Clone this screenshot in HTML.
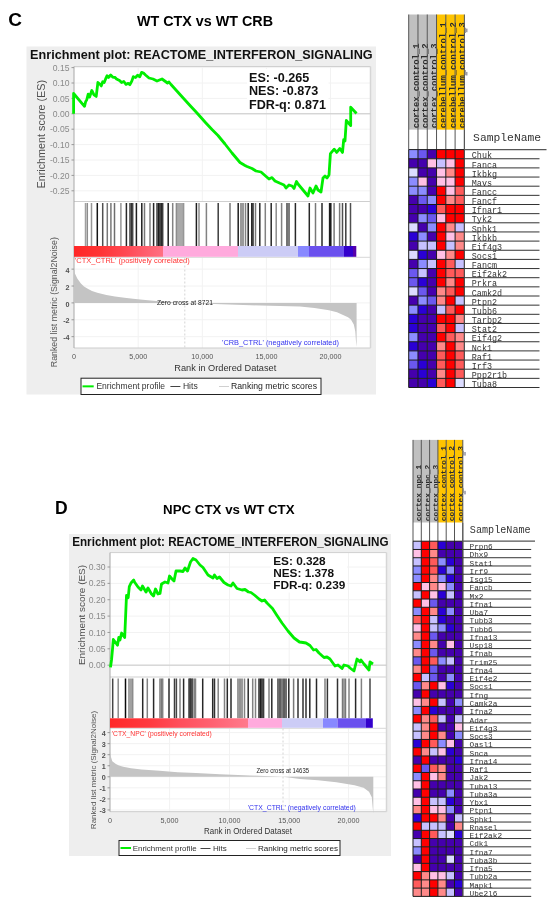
<!DOCTYPE html>
<html><head><meta charset="utf-8"><title>GSEA</title>
<style>html,body{margin:0;padding:0;background:#fff;width:550px;height:905px;overflow:hidden;position:relative;font-family:"Liberation Sans",sans-serif}</style>
</head><body>
<svg width="550" height="905" viewBox="0 0 550 905" style="position:absolute;left:0;top:0;filter:blur(0.4px)">
<rect x="0.00" y="0.00" width="550.00" height="905.00" fill="#ffffff" />
<text x="8.3" y="25.6" font-size="19" font-weight="bold" fill="#000" text-anchor="start" font-family='"Liberation Sans", sans-serif' >C</text>
<text x="137.0" y="26.2" font-size="14.3" font-weight="bold" fill="#000" text-anchor="start" font-family='"Liberation Sans", sans-serif' textLength="136" lengthAdjust="spacingAndGlyphs" >WT CTX vs WT CRB</text>
<text x="55.0" y="513.6" font-size="17.5" font-weight="bold" fill="#000" text-anchor="start" font-family='"Liberation Sans", sans-serif' >D</text>
<text x="163.1" y="513.9" font-size="13.0" font-weight="bold" fill="#000" text-anchor="start" font-family='"Liberation Sans", sans-serif' textLength="131.5" lengthAdjust="spacingAndGlyphs" >NPC CTX vs WT CTX</text>
<rect x="26.50" y="46.50" width="349.50" height="348.00" fill="#eeeeee" />
<text x="30.1" y="59.2" font-size="12.6" font-weight="bold" fill="#111" text-anchor="start" font-family='"Liberation Sans", sans-serif' textLength="342.5" lengthAdjust="spacingAndGlyphs" >Enrichment plot: REACTOME_INTERFERON_SIGNALING</text>
<rect x="74.00" y="66.50" width="296.50" height="281.50" fill="#ffffff" />
<line x1="74.00" y1="67.60" x2="370.50" y2="67.60" stroke="#f2f2f2" stroke-width="1" />
<line x1="74.00" y1="83.00" x2="370.50" y2="83.00" stroke="#f2f2f2" stroke-width="1" />
<line x1="74.00" y1="98.40" x2="370.50" y2="98.40" stroke="#f2f2f2" stroke-width="1" />
<line x1="74.00" y1="113.80" x2="370.50" y2="113.80" stroke="#f2f2f2" stroke-width="1" />
<line x1="74.00" y1="129.20" x2="370.50" y2="129.20" stroke="#f2f2f2" stroke-width="1" />
<line x1="74.00" y1="144.60" x2="370.50" y2="144.60" stroke="#f2f2f2" stroke-width="1" />
<line x1="74.00" y1="160.00" x2="370.50" y2="160.00" stroke="#f2f2f2" stroke-width="1" />
<line x1="74.00" y1="175.40" x2="370.50" y2="175.40" stroke="#f2f2f2" stroke-width="1" />
<line x1="74.00" y1="190.80" x2="370.50" y2="190.80" stroke="#f2f2f2" stroke-width="1" />
<line x1="138.20" y1="66.50" x2="138.20" y2="201.50" stroke="#f2f2f2" stroke-width="1" />
<line x1="138.20" y1="257.50" x2="138.20" y2="348.00" stroke="#f2f2f2" stroke-width="1" />
<line x1="202.30" y1="66.50" x2="202.30" y2="201.50" stroke="#f2f2f2" stroke-width="1" />
<line x1="202.30" y1="257.50" x2="202.30" y2="348.00" stroke="#f2f2f2" stroke-width="1" />
<line x1="266.40" y1="66.50" x2="266.40" y2="201.50" stroke="#f2f2f2" stroke-width="1" />
<line x1="266.40" y1="257.50" x2="266.40" y2="348.00" stroke="#f2f2f2" stroke-width="1" />
<line x1="330.50" y1="66.50" x2="330.50" y2="201.50" stroke="#f2f2f2" stroke-width="1" />
<line x1="330.50" y1="257.50" x2="330.50" y2="348.00" stroke="#f2f2f2" stroke-width="1" />
<line x1="74.00" y1="269.14" x2="370.50" y2="269.14" stroke="#f2f2f2" stroke-width="1" />
<line x1="74.00" y1="286.02" x2="370.50" y2="286.02" stroke="#f2f2f2" stroke-width="1" />
<line x1="74.00" y1="302.90" x2="370.50" y2="302.90" stroke="#f2f2f2" stroke-width="1" />
<line x1="74.00" y1="319.78" x2="370.50" y2="319.78" stroke="#f2f2f2" stroke-width="1" />
<line x1="74.00" y1="336.66" x2="370.50" y2="336.66" stroke="#f2f2f2" stroke-width="1" />
<line x1="74.00" y1="66.50" x2="370.50" y2="66.50" stroke="#d0d0d0" stroke-width="1" />
<line x1="74.00" y1="201.50" x2="370.50" y2="201.50" stroke="#cfcfcf" stroke-width="1" />
<line x1="74.00" y1="257.30" x2="370.50" y2="257.30" stroke="#d8d8d8" stroke-width="1" />
<line x1="74.00" y1="348.00" x2="370.50" y2="348.00" stroke="#cccccc" stroke-width="1" />
<line x1="370.50" y1="66.50" x2="370.50" y2="348.00" stroke="#d6d6d6" stroke-width="1.5" />
<line x1="74.00" y1="66.50" x2="74.00" y2="348.00" stroke="#a8a8a8" stroke-width="1" />
<line x1="74.00" y1="113.80" x2="370.50" y2="113.80" stroke="#c8c8c8" stroke-width="1" />
<line x1="71.50" y1="67.60" x2="74.00" y2="67.60" stroke="#999" stroke-width="1" />
<text x="69.5" y="70.69999999999999" font-size="8.6" font-weight="normal" fill="#8a8a8a" text-anchor="end" font-family='"Liberation Sans", sans-serif' >0.15</text>
<line x1="71.50" y1="83.00" x2="74.00" y2="83.00" stroke="#999" stroke-width="1" />
<text x="69.5" y="86.09999999999998" font-size="8.6" font-weight="normal" fill="#8a8a8a" text-anchor="end" font-family='"Liberation Sans", sans-serif' >0.10</text>
<line x1="71.50" y1="98.40" x2="74.00" y2="98.40" stroke="#999" stroke-width="1" />
<text x="69.5" y="101.49999999999999" font-size="8.6" font-weight="normal" fill="#8a8a8a" text-anchor="end" font-family='"Liberation Sans", sans-serif' >0.05</text>
<line x1="71.50" y1="113.80" x2="74.00" y2="113.80" stroke="#999" stroke-width="1" />
<text x="69.5" y="116.89999999999998" font-size="8.6" font-weight="normal" fill="#8a8a8a" text-anchor="end" font-family='"Liberation Sans", sans-serif' >0.00</text>
<line x1="71.50" y1="129.20" x2="74.00" y2="129.20" stroke="#999" stroke-width="1" />
<text x="69.5" y="132.29999999999998" font-size="8.6" font-weight="normal" fill="#8a8a8a" text-anchor="end" font-family='"Liberation Sans", sans-serif' >-0.05</text>
<line x1="71.50" y1="144.60" x2="74.00" y2="144.60" stroke="#999" stroke-width="1" />
<text x="69.5" y="147.7" font-size="8.6" font-weight="normal" fill="#8a8a8a" text-anchor="end" font-family='"Liberation Sans", sans-serif' >-0.10</text>
<line x1="71.50" y1="160.00" x2="74.00" y2="160.00" stroke="#999" stroke-width="1" />
<text x="69.5" y="163.1" font-size="8.6" font-weight="normal" fill="#8a8a8a" text-anchor="end" font-family='"Liberation Sans", sans-serif' >-0.15</text>
<line x1="71.50" y1="175.40" x2="74.00" y2="175.40" stroke="#999" stroke-width="1" />
<text x="69.5" y="178.49999999999997" font-size="8.6" font-weight="normal" fill="#8a8a8a" text-anchor="end" font-family='"Liberation Sans", sans-serif' >-0.20</text>
<line x1="71.50" y1="190.80" x2="74.00" y2="190.80" stroke="#999" stroke-width="1" />
<text x="69.5" y="193.9" font-size="8.6" font-weight="normal" fill="#8a8a8a" text-anchor="end" font-family='"Liberation Sans", sans-serif' >-0.25</text>
<line x1="71.50" y1="269.14" x2="74.00" y2="269.14" stroke="#999" stroke-width="1" />
<text x="69.6" y="272.74" font-size="7.2" font-weight="bold" fill="#505050" text-anchor="end" font-family='"Liberation Sans", sans-serif' >4</text>
<line x1="71.50" y1="286.02" x2="74.00" y2="286.02" stroke="#999" stroke-width="1" />
<text x="69.6" y="289.62" font-size="7.2" font-weight="bold" fill="#505050" text-anchor="end" font-family='"Liberation Sans", sans-serif' >2</text>
<line x1="71.50" y1="302.90" x2="74.00" y2="302.90" stroke="#999" stroke-width="1" />
<text x="69.6" y="306.5" font-size="7.2" font-weight="bold" fill="#505050" text-anchor="end" font-family='"Liberation Sans", sans-serif' >0</text>
<line x1="71.50" y1="319.78" x2="74.00" y2="319.78" stroke="#999" stroke-width="1" />
<text x="69.6" y="323.38" font-size="7.2" font-weight="bold" fill="#505050" text-anchor="end" font-family='"Liberation Sans", sans-serif' >-2</text>
<line x1="71.50" y1="336.66" x2="74.00" y2="336.66" stroke="#999" stroke-width="1" />
<text x="69.6" y="340.26" font-size="7.2" font-weight="bold" fill="#505050" text-anchor="end" font-family='"Liberation Sans", sans-serif' >-4</text>
<text transform="translate(44.8,134.2) rotate(-90)" font-size="10.8" fill="#505050" text-anchor="middle" font-family='"Liberation Sans", sans-serif'>Enrichment score (ES)</text>
<text transform="translate(57.3,302.2) rotate(-90)" font-size="8.8" fill="#555" text-anchor="middle" font-family='"Liberation Sans", sans-serif'>Ranked list metric (Signal2Noise)</text>
<text x="74.0" y="359.0" font-size="7.2" font-weight="normal" fill="#555" text-anchor="middle" font-family='"Liberation Sans", sans-serif' >0</text>
<text x="138.2" y="359.0" font-size="7.2" font-weight="normal" fill="#555" text-anchor="middle" font-family='"Liberation Sans", sans-serif' >5,000</text>
<text x="202.3" y="359.0" font-size="7.2" font-weight="normal" fill="#555" text-anchor="middle" font-family='"Liberation Sans", sans-serif' >10,000</text>
<text x="266.4" y="359.0" font-size="7.2" font-weight="normal" fill="#555" text-anchor="middle" font-family='"Liberation Sans", sans-serif' >15,000</text>
<text x="330.5" y="359.0" font-size="7.2" font-weight="normal" fill="#555" text-anchor="middle" font-family='"Liberation Sans", sans-serif' >20,000</text>
<text x="174.3" y="370.5" font-size="9.3" font-weight="normal" fill="#333" text-anchor="start" font-family='"Liberation Sans", sans-serif' textLength="102" lengthAdjust="spacingAndGlyphs" >Rank in Ordered Dataset</text>
<line x1="85.50" y1="203.00" x2="85.50" y2="246.00" stroke="rgb(160,160,160)" stroke-width="1.5" />
<line x1="87.30" y1="203.00" x2="87.30" y2="246.00" stroke="rgb(140,140,140)" stroke-width="1.5" />
<line x1="91.50" y1="203.00" x2="91.50" y2="246.00" stroke="rgb(150,150,150)" stroke-width="1.5" />
<line x1="97.30" y1="203.00" x2="97.30" y2="246.00" stroke="rgb(20,20,20)" stroke-width="1.5" />
<line x1="102.70" y1="203.00" x2="102.70" y2="246.00" stroke="rgb(80,80,80)" stroke-width="1.5" />
<line x1="107.30" y1="203.00" x2="107.30" y2="246.00" stroke="rgb(120,120,120)" stroke-width="1.5" />
<line x1="110.90" y1="203.00" x2="110.90" y2="246.00" stroke="rgb(120,120,120)" stroke-width="1.5" />
<line x1="114.50" y1="203.00" x2="114.50" y2="246.00" stroke="rgb(110,110,110)" stroke-width="1.5" />
<line x1="120.90" y1="203.00" x2="120.90" y2="246.00" stroke="rgb(150,150,150)" stroke-width="1.5" />
<line x1="126.40" y1="203.00" x2="126.40" y2="246.00" stroke="rgb(40,40,40)" stroke-width="1.5" />
<line x1="130.00" y1="203.00" x2="130.00" y2="246.00" stroke="rgb(60,60,60)" stroke-width="1.5" />
<line x1="131.50" y1="203.00" x2="131.50" y2="246.00" stroke="rgb(50,50,50)" stroke-width="1.5" />
<line x1="132.70" y1="203.00" x2="132.70" y2="246.00" stroke="rgb(70,70,70)" stroke-width="1.5" />
<line x1="136.40" y1="203.00" x2="136.40" y2="246.00" stroke="rgb(30,30,30)" stroke-width="1.5" />
<line x1="141.80" y1="203.00" x2="141.80" y2="246.00" stroke="rgb(30,30,30)" stroke-width="1.5" />
<line x1="144.50" y1="203.00" x2="144.50" y2="246.00" stroke="rgb(120,120,120)" stroke-width="1.5" />
<line x1="150.00" y1="203.00" x2="150.00" y2="246.00" stroke="rgb(130,130,130)" stroke-width="1.5" />
<line x1="153.60" y1="203.00" x2="153.60" y2="246.00" stroke="rgb(40,40,40)" stroke-width="1.5" />
<line x1="157.00" y1="203.00" x2="157.00" y2="246.00" stroke="rgb(60,60,60)" stroke-width="1.5" />
<line x1="158.50" y1="203.00" x2="158.50" y2="246.00" stroke="rgb(30,30,30)" stroke-width="1.5" />
<line x1="160.00" y1="203.00" x2="160.00" y2="246.00" stroke="rgb(20,20,20)" stroke-width="1.5" />
<line x1="161.50" y1="203.00" x2="161.50" y2="246.00" stroke="rgb(40,40,40)" stroke-width="1.5" />
<line x1="162.70" y1="203.00" x2="162.70" y2="246.00" stroke="rgb(60,60,60)" stroke-width="1.5" />
<line x1="168.20" y1="203.00" x2="168.20" y2="246.00" stroke="rgb(30,30,30)" stroke-width="1.5" />
<line x1="172.70" y1="203.00" x2="172.70" y2="246.00" stroke="rgb(130,130,130)" stroke-width="1.5" />
<line x1="176.40" y1="203.00" x2="176.40" y2="246.00" stroke="rgb(140,140,140)" stroke-width="1.5" />
<line x1="178.00" y1="203.00" x2="178.00" y2="246.00" stroke="rgb(140,140,140)" stroke-width="1.5" />
<line x1="180.00" y1="203.00" x2="180.00" y2="246.00" stroke="rgb(140,140,140)" stroke-width="1.5" />
<line x1="182.00" y1="203.00" x2="182.00" y2="246.00" stroke="rgb(140,140,140)" stroke-width="1.5" />
<line x1="183.60" y1="203.00" x2="183.60" y2="246.00" stroke="rgb(150,150,150)" stroke-width="1.5" />
<line x1="196.40" y1="203.00" x2="196.40" y2="246.00" stroke="rgb(30,30,30)" stroke-width="1.5" />
<line x1="199.00" y1="203.00" x2="199.00" y2="246.00" stroke="rgb(140,140,140)" stroke-width="1.5" />
<line x1="206.40" y1="203.00" x2="206.40" y2="246.00" stroke="rgb(130,130,130)" stroke-width="1.5" />
<line x1="218.20" y1="203.00" x2="218.20" y2="246.00" stroke="rgb(60,60,60)" stroke-width="1.5" />
<line x1="230.00" y1="203.00" x2="230.00" y2="246.00" stroke="rgb(120,120,120)" stroke-width="1.5" />
<line x1="238.20" y1="203.00" x2="238.20" y2="246.00" stroke="rgb(30,30,30)" stroke-width="1.5" />
<line x1="241.00" y1="203.00" x2="241.00" y2="246.00" stroke="rgb(120,120,120)" stroke-width="1.5" />
<line x1="243.00" y1="203.00" x2="243.00" y2="246.00" stroke="rgb(120,120,120)" stroke-width="1.5" />
<line x1="245.50" y1="203.00" x2="245.50" y2="246.00" stroke="rgb(130,130,130)" stroke-width="1.5" />
<line x1="248.20" y1="203.00" x2="248.20" y2="246.00" stroke="rgb(30,30,30)" stroke-width="1.5" />
<line x1="251.80" y1="203.00" x2="251.80" y2="246.00" stroke="rgb(30,30,30)" stroke-width="1.5" />
<line x1="253.00" y1="203.00" x2="253.00" y2="246.00" stroke="rgb(40,40,40)" stroke-width="1.5" />
<line x1="255.50" y1="203.00" x2="255.50" y2="246.00" stroke="rgb(120,120,120)" stroke-width="1.5" />
<line x1="259.80" y1="203.00" x2="259.80" y2="246.00" stroke="rgb(40,40,40)" stroke-width="1.5" />
<line x1="265.30" y1="203.00" x2="265.30" y2="246.00" stroke="rgb(130,130,130)" stroke-width="1.5" />
<line x1="271.20" y1="203.00" x2="271.20" y2="246.00" stroke="rgb(40,40,40)" stroke-width="1.5" />
<line x1="276.20" y1="203.00" x2="276.20" y2="246.00" stroke="rgb(140,140,140)" stroke-width="1.5" />
<line x1="281.60" y1="203.00" x2="281.60" y2="246.00" stroke="rgb(130,130,130)" stroke-width="1.5" />
<line x1="287.00" y1="203.00" x2="287.00" y2="246.00" stroke="rgb(70,70,70)" stroke-width="1.5" />
<line x1="289.00" y1="203.00" x2="289.00" y2="246.00" stroke="rgb(80,80,80)" stroke-width="1.5" />
<line x1="295.40" y1="203.00" x2="295.40" y2="246.00" stroke="rgb(40,40,40)" stroke-width="1.5" />
<line x1="309.30" y1="203.00" x2="309.30" y2="246.00" stroke="rgb(40,40,40)" stroke-width="1.5" />
<line x1="315.50" y1="203.00" x2="315.50" y2="246.00" stroke="rgb(120,120,120)" stroke-width="1.5" />
<line x1="322.00" y1="203.00" x2="322.00" y2="246.00" stroke="rgb(40,40,40)" stroke-width="1.5" />
<line x1="329.60" y1="203.00" x2="329.60" y2="246.00" stroke="rgb(30,30,30)" stroke-width="1.5" />
<line x1="330.80" y1="203.00" x2="330.80" y2="246.00" stroke="rgb(20,20,20)" stroke-width="1.5" />
<line x1="334.10" y1="203.00" x2="334.10" y2="246.00" stroke="rgb(120,120,120)" stroke-width="1.5" />
<line x1="339.60" y1="203.00" x2="339.60" y2="246.00" stroke="rgb(120,120,120)" stroke-width="1.5" />
<line x1="342.50" y1="203.00" x2="342.50" y2="246.00" stroke="rgb(80,80,80)" stroke-width="1.5" />
<line x1="345.80" y1="203.00" x2="345.80" y2="246.00" stroke="rgb(60,60,60)" stroke-width="1.5" />
<line x1="350.50" y1="203.00" x2="350.50" y2="246.00" stroke="rgb(80,80,80)" stroke-width="1.5" />
<defs><linearGradient id="gC" x1="0" x2="1" y1="0" y2="0"><stop offset="0.000" stop-color="#ff2626"/><stop offset="0.292" stop-color="#ff3434"/><stop offset="0.596" stop-color="#ff4a55"/><stop offset="0.798" stop-color="#ff5e6c"/><stop offset="1.000" stop-color="#ff7082"/></linearGradient></defs>
<rect x="74.00" y="246.00" width="89.00" height="10.80" fill="url(#gC)" />
<rect x="163.00" y="246.00" width="75.00" height="10.80" fill="#ffaadd" />
<rect x="238.00" y="246.00" width="60.00" height="10.80" fill="#ccccf6" />
<rect x="298.00" y="246.00" width="11.00" height="10.80" fill="#8888ff" />
<rect x="309.00" y="246.00" width="35.00" height="10.80" fill="#6a50ee" />
<rect x="344.00" y="246.00" width="9.00" height="10.80" fill="#3300cc" />
<rect x="353.00" y="246.00" width="3.30" height="10.80" fill="#5500aa" />
<text x="74.8" y="263.2" font-size="7.5" font-weight="normal" fill="#ff3333" text-anchor="start" font-family='"Liberation Sans", sans-serif' textLength="115" lengthAdjust="spacingAndGlyphs" >'CTX_CTRL' (positively correlated)</text>
<text x="222.0" y="345.2" font-size="7.5" font-weight="normal" fill="#3333ee" text-anchor="start" font-family='"Liberation Sans", sans-serif' textLength="117" lengthAdjust="spacingAndGlyphs" >'CRB_CTRL' (negatively correlated)</text>
<path d="M74,302.90 L74.00,268.30 L74.80,273.36 L77.30,278.42 L80.90,283.49 L84.00,286.44 L88.20,288.89 L92.00,290.92 L97.30,292.77 L106.40,295.05 L115.00,296.57 L124.50,297.84 L133.00,298.85 L142.70,299.69 L156.40,301.04 L170.00,301.89 L185.50,302.90 L200.00,303.58 L236.00,304.76 L270.00,305.85 L300.00,306.53 L314.50,307.96 L329.00,310.16 L337.00,312.18 L343.60,315.22 L348.00,317.25 L350.90,319.61 L353.80,324.59 L355.30,331.60 L356.00,341.72 L356.60,346.79 L356.6,302.90 Z" fill="#c4c4c4" stroke="none"/>
<line x1="184.80" y1="257.50" x2="184.80" y2="348.00" stroke="#d4d4d4" stroke-width="1" stroke-dasharray="2,2"/>
<text x="157.0" y="305.0" font-size="6.8" font-weight="normal" fill="#222" text-anchor="start" font-family='"Liberation Sans", sans-serif' textLength="56" lengthAdjust="spacingAndGlyphs" >Zero cross at 8721</text>
<polyline points="73.6,113.8 73.6,93.5 84.5,106.3 85.7,101.5 86.7,100.0 88.2,94.2 89.6,97.1 91.8,90.5 94.0,94.9 96.2,96.4 97.9,82.5 99.8,84.0 101.3,85.9 102.7,81.8 104.2,82.5 105.6,78.9 107.1,75.7 108.5,77.5 110.7,75.0 112.9,77.2 115.1,77.5 116.5,78.9 119.5,80.4 121.6,82.5 123.8,81.5 126.0,84.4 128.2,83.3 129.9,84.7 131.8,81.1 133.3,76.7 135.5,77.5 137.6,75.3 139.8,76.7 141.6,72.4 143.5,73.1 145.5,75.0 149.0,78.0 153.0,79.0 157.0,81.0 162.0,79.0 167.5,83.0 169.0,82.0 171.0,84.5 180.0,94.5 190.0,105.5 197.0,113.0 205.0,122.0 212.0,129.5 218.0,135.5 225.0,144.0 232.0,153.0 240.0,162.5 245.0,165.5 247.0,166.5 252.0,168.5 256.0,171.0 261.0,172.0 265.0,175.5 269.0,179.0 272.0,177.6 275.0,181.0 280.0,183.3 284.0,185.0 286.0,188.0 289.0,185.0 292.0,186.0 294.0,188.5 296.5,181.5 298.0,184.0 303.0,190.0 308.0,196.0 310.0,188.0 313.0,193.0 316.0,186.0 318.0,190.0 321.0,192.0 323.0,178.0 325.0,176.0 327.0,178.0 329.0,175.0 330.4,153.6 334.2,149.2 336.7,152.4 339.9,148.5 342.5,152.4 343.7,139.6 345.0,140.9 346.3,120.5 350.7,125.6 350.7,107.2 356.5,113.5" fill="none" stroke="#00ee00" stroke-width="2.8" stroke-linejoin="round"/>
<rect x="247.00" y="69.00" width="81.50" height="35.50" fill="#ffffff" />
<text x="249.0" y="81.7" font-size="12.6" font-weight="bold" fill="#111" text-anchor="start" font-family='"Liberation Sans", sans-serif' >ES: -0.265</text>
<text x="249.0" y="95.2" font-size="12.6" font-weight="bold" fill="#111" text-anchor="start" font-family='"Liberation Sans", sans-serif' >NES: -0.873</text>
<text x="249.0" y="108.7" font-size="12.6" font-weight="bold" fill="#111" text-anchor="start" font-family='"Liberation Sans", sans-serif' >FDR-q: 0.871</text>
<rect x="81.0" y="378.2" width="240.0" height="16.30000000000001" fill="#ffffff" stroke="#222" stroke-width="1"/>
<line x1="82.50" y1="386.35" x2="93.70" y2="386.35" stroke="#00ee00" stroke-width="2" />
<text x="96.4" y="389.35" font-size="8.6" font-weight="normal" fill="#333" text-anchor="start" font-family='"Liberation Sans", sans-serif' textLength="68.7" lengthAdjust="spacingAndGlyphs" >Enrichment profile</text>
<line x1="170.40" y1="386.50" x2="180.40" y2="386.50" stroke="#444" stroke-width="1" />
<text x="182.9" y="389.35" font-size="8.6" font-weight="normal" fill="#333" text-anchor="start" font-family='"Liberation Sans", sans-serif' >Hits</text>
<line x1="219.00" y1="386.50" x2="229.00" y2="386.50" stroke="#d0d0d0" stroke-width="1" />
<text x="231.0" y="389.35" font-size="8.6" font-weight="normal" fill="#222" text-anchor="start" font-family='"Liberation Sans", sans-serif' textLength="86.0" lengthAdjust="spacingAndGlyphs" >Ranking metric scores</text>
<rect x="69.00" y="534.00" width="322.00" height="322.00" fill="#eeeeee" />
<text x="72.2" y="545.6" font-size="11.9" font-weight="bold" fill="#111" text-anchor="start" font-family='"Liberation Sans", sans-serif' textLength="316.3" lengthAdjust="spacingAndGlyphs" >Enrichment plot: REACTOME_INTERFERON_SIGNALING</text>
<rect x="110.00" y="552.60" width="276.50" height="259.10" fill="#ffffff" />
<line x1="110.00" y1="567.00" x2="386.50" y2="567.00" stroke="#f2f2f2" stroke-width="1" />
<line x1="110.00" y1="583.36" x2="386.50" y2="583.36" stroke="#f2f2f2" stroke-width="1" />
<line x1="110.00" y1="599.72" x2="386.50" y2="599.72" stroke="#f2f2f2" stroke-width="1" />
<line x1="110.00" y1="616.08" x2="386.50" y2="616.08" stroke="#f2f2f2" stroke-width="1" />
<line x1="110.00" y1="632.44" x2="386.50" y2="632.44" stroke="#f2f2f2" stroke-width="1" />
<line x1="110.00" y1="648.80" x2="386.50" y2="648.80" stroke="#f2f2f2" stroke-width="1" />
<line x1="110.00" y1="665.16" x2="386.50" y2="665.16" stroke="#f2f2f2" stroke-width="1" />
<line x1="169.60" y1="552.60" x2="169.60" y2="677.00" stroke="#f2f2f2" stroke-width="1" />
<line x1="169.60" y1="728.50" x2="169.60" y2="811.70" stroke="#f2f2f2" stroke-width="1" />
<line x1="229.50" y1="552.60" x2="229.50" y2="677.00" stroke="#f2f2f2" stroke-width="1" />
<line x1="229.50" y1="728.50" x2="229.50" y2="811.70" stroke="#f2f2f2" stroke-width="1" />
<line x1="289.20" y1="552.60" x2="289.20" y2="677.00" stroke="#f2f2f2" stroke-width="1" />
<line x1="289.20" y1="728.50" x2="289.20" y2="811.70" stroke="#f2f2f2" stroke-width="1" />
<line x1="348.50" y1="552.60" x2="348.50" y2="677.00" stroke="#f2f2f2" stroke-width="1" />
<line x1="348.50" y1="728.50" x2="348.50" y2="811.70" stroke="#f2f2f2" stroke-width="1" />
<line x1="110.00" y1="732.60" x2="386.50" y2="732.60" stroke="#f2f2f2" stroke-width="1" />
<line x1="110.00" y1="743.65" x2="386.50" y2="743.65" stroke="#f2f2f2" stroke-width="1" />
<line x1="110.00" y1="754.70" x2="386.50" y2="754.70" stroke="#f2f2f2" stroke-width="1" />
<line x1="110.00" y1="765.75" x2="386.50" y2="765.75" stroke="#f2f2f2" stroke-width="1" />
<line x1="110.00" y1="776.80" x2="386.50" y2="776.80" stroke="#f2f2f2" stroke-width="1" />
<line x1="110.00" y1="787.85" x2="386.50" y2="787.85" stroke="#f2f2f2" stroke-width="1" />
<line x1="110.00" y1="798.90" x2="386.50" y2="798.90" stroke="#f2f2f2" stroke-width="1" />
<line x1="110.00" y1="809.95" x2="386.50" y2="809.95" stroke="#f2f2f2" stroke-width="1" />
<line x1="110.00" y1="552.60" x2="386.50" y2="552.60" stroke="#d0d0d0" stroke-width="1" />
<line x1="110.00" y1="677.00" x2="386.50" y2="677.00" stroke="#cfcfcf" stroke-width="1" />
<line x1="110.00" y1="728.30" x2="386.50" y2="728.30" stroke="#d8d8d8" stroke-width="1" />
<line x1="110.00" y1="811.70" x2="386.50" y2="811.70" stroke="#cccccc" stroke-width="1" />
<line x1="386.50" y1="552.60" x2="386.50" y2="811.70" stroke="#d6d6d6" stroke-width="1.5" />
<line x1="110.00" y1="552.60" x2="110.00" y2="811.70" stroke="#a8a8a8" stroke-width="1" />
<line x1="110.00" y1="665.16" x2="386.50" y2="665.16" stroke="#c8c8c8" stroke-width="1" />
<line x1="107.50" y1="567.00" x2="110.00" y2="567.00" stroke="#999" stroke-width="1" />
<text x="105.5" y="570.1" font-size="8.6" font-weight="normal" fill="#8a8a8a" text-anchor="end" font-family='"Liberation Sans", sans-serif' >0.30</text>
<line x1="107.50" y1="583.36" x2="110.00" y2="583.36" stroke="#999" stroke-width="1" />
<text x="105.5" y="586.46" font-size="8.6" font-weight="normal" fill="#8a8a8a" text-anchor="end" font-family='"Liberation Sans", sans-serif' >0.25</text>
<line x1="107.50" y1="599.72" x2="110.00" y2="599.72" stroke="#999" stroke-width="1" />
<text x="105.5" y="602.82" font-size="8.6" font-weight="normal" fill="#8a8a8a" text-anchor="end" font-family='"Liberation Sans", sans-serif' >0.20</text>
<line x1="107.50" y1="616.08" x2="110.00" y2="616.08" stroke="#999" stroke-width="1" />
<text x="105.5" y="619.1800000000001" font-size="8.6" font-weight="normal" fill="#8a8a8a" text-anchor="end" font-family='"Liberation Sans", sans-serif' >0.15</text>
<line x1="107.50" y1="632.44" x2="110.00" y2="632.44" stroke="#999" stroke-width="1" />
<text x="105.5" y="635.54" font-size="8.6" font-weight="normal" fill="#8a8a8a" text-anchor="end" font-family='"Liberation Sans", sans-serif' >0.10</text>
<line x1="107.50" y1="648.80" x2="110.00" y2="648.80" stroke="#999" stroke-width="1" />
<text x="105.5" y="651.9" font-size="8.6" font-weight="normal" fill="#8a8a8a" text-anchor="end" font-family='"Liberation Sans", sans-serif' >0.05</text>
<line x1="107.50" y1="665.16" x2="110.00" y2="665.16" stroke="#999" stroke-width="1" />
<text x="105.5" y="668.26" font-size="8.6" font-weight="normal" fill="#8a8a8a" text-anchor="end" font-family='"Liberation Sans", sans-serif' >0.00</text>
<line x1="107.50" y1="732.60" x2="110.00" y2="732.60" stroke="#999" stroke-width="1" />
<text x="105.8" y="735.4999999999999" font-size="7.2" font-weight="bold" fill="#505050" text-anchor="end" font-family='"Liberation Sans", sans-serif' >4</text>
<line x1="107.50" y1="743.65" x2="110.00" y2="743.65" stroke="#999" stroke-width="1" />
<text x="105.8" y="746.55" font-size="7.2" font-weight="bold" fill="#505050" text-anchor="end" font-family='"Liberation Sans", sans-serif' >3</text>
<line x1="107.50" y1="754.70" x2="110.00" y2="754.70" stroke="#999" stroke-width="1" />
<text x="105.8" y="757.5999999999999" font-size="7.2" font-weight="bold" fill="#505050" text-anchor="end" font-family='"Liberation Sans", sans-serif' >2</text>
<line x1="107.50" y1="765.75" x2="110.00" y2="765.75" stroke="#999" stroke-width="1" />
<text x="105.8" y="768.65" font-size="7.2" font-weight="bold" fill="#505050" text-anchor="end" font-family='"Liberation Sans", sans-serif' >1</text>
<line x1="107.50" y1="776.80" x2="110.00" y2="776.80" stroke="#999" stroke-width="1" />
<text x="105.8" y="779.6999999999999" font-size="7.2" font-weight="bold" fill="#505050" text-anchor="end" font-family='"Liberation Sans", sans-serif' >0</text>
<line x1="107.50" y1="787.85" x2="110.00" y2="787.85" stroke="#999" stroke-width="1" />
<text x="105.8" y="790.7499999999999" font-size="7.2" font-weight="bold" fill="#505050" text-anchor="end" font-family='"Liberation Sans", sans-serif' >-1</text>
<line x1="107.50" y1="798.90" x2="110.00" y2="798.90" stroke="#999" stroke-width="1" />
<text x="105.8" y="801.8" font-size="7.2" font-weight="bold" fill="#505050" text-anchor="end" font-family='"Liberation Sans", sans-serif' >-2</text>
<line x1="107.50" y1="809.95" x2="110.00" y2="809.95" stroke="#999" stroke-width="1" />
<text x="105.8" y="812.8499999999999" font-size="7.2" font-weight="bold" fill="#505050" text-anchor="end" font-family='"Liberation Sans", sans-serif' >-3</text>
<text transform="translate(84.6,615.0) rotate(-90)" font-size="9.96" fill="#505050" text-anchor="middle" font-family='"Liberation Sans", sans-serif'>Enrichment score (ES)</text>
<text transform="translate(95.8,770.0) rotate(-90)" font-size="8.0" fill="#555" text-anchor="middle" font-family='"Liberation Sans", sans-serif'>Ranked list metric (Signal2Noise)</text>
<text x="110.0" y="823.0" font-size="7.2" font-weight="normal" fill="#555" text-anchor="middle" font-family='"Liberation Sans", sans-serif' >0</text>
<text x="169.6" y="823.0" font-size="7.2" font-weight="normal" fill="#555" text-anchor="middle" font-family='"Liberation Sans", sans-serif' >5,000</text>
<text x="229.5" y="823.0" font-size="7.2" font-weight="normal" fill="#555" text-anchor="middle" font-family='"Liberation Sans", sans-serif' >10,000</text>
<text x="289.2" y="823.0" font-size="7.2" font-weight="normal" fill="#555" text-anchor="middle" font-family='"Liberation Sans", sans-serif' >15,000</text>
<text x="348.5" y="823.0" font-size="7.2" font-weight="normal" fill="#555" text-anchor="middle" font-family='"Liberation Sans", sans-serif' >20,000</text>
<text x="204.0" y="834.0" font-size="8.6" font-weight="normal" fill="#333" text-anchor="start" font-family='"Liberation Sans", sans-serif' textLength="88" lengthAdjust="spacingAndGlyphs" >Rank in Ordered Dataset</text>
<line x1="112.70" y1="678.50" x2="112.70" y2="718.30" stroke="rgb(70,70,70)" stroke-width="1.5" />
<line x1="118.20" y1="678.50" x2="118.20" y2="718.30" stroke="rgb(140,140,140)" stroke-width="1.5" />
<line x1="125.50" y1="678.50" x2="125.50" y2="718.30" stroke="rgb(10,10,10)" stroke-width="1.5" />
<line x1="129.00" y1="678.50" x2="129.00" y2="718.30" stroke="rgb(130,130,130)" stroke-width="1.5" />
<line x1="131.00" y1="678.50" x2="131.00" y2="718.30" stroke="rgb(130,130,130)" stroke-width="1.5" />
<line x1="132.70" y1="678.50" x2="132.70" y2="718.30" stroke="rgb(140,140,140)" stroke-width="1.5" />
<line x1="142.70" y1="678.50" x2="142.70" y2="718.30" stroke="rgb(40,40,40)" stroke-width="1.5" />
<line x1="147.30" y1="678.50" x2="147.30" y2="718.30" stroke="rgb(130,130,130)" stroke-width="1.5" />
<line x1="153.60" y1="678.50" x2="153.60" y2="718.30" stroke="rgb(40,40,40)" stroke-width="1.5" />
<line x1="160.00" y1="678.50" x2="160.00" y2="718.30" stroke="rgb(120,120,120)" stroke-width="1.5" />
<line x1="161.50" y1="678.50" x2="161.50" y2="718.30" stroke="rgb(120,120,120)" stroke-width="1.5" />
<line x1="162.70" y1="678.50" x2="162.70" y2="718.30" stroke="rgb(130,130,130)" stroke-width="1.5" />
<line x1="169.00" y1="678.50" x2="169.00" y2="718.30" stroke="rgb(40,40,40)" stroke-width="1.5" />
<line x1="174.50" y1="678.50" x2="174.50" y2="718.30" stroke="rgb(60,60,60)" stroke-width="1.5" />
<line x1="176.40" y1="678.50" x2="176.40" y2="718.30" stroke="rgb(70,70,70)" stroke-width="1.5" />
<line x1="180.00" y1="678.50" x2="180.00" y2="718.30" stroke="rgb(130,130,130)" stroke-width="1.5" />
<line x1="183.60" y1="678.50" x2="183.60" y2="718.30" stroke="rgb(40,40,40)" stroke-width="1.5" />
<line x1="189.00" y1="678.50" x2="189.00" y2="718.30" stroke="rgb(60,60,60)" stroke-width="1.5" />
<line x1="190.50" y1="678.50" x2="190.50" y2="718.30" stroke="rgb(50,50,50)" stroke-width="1.5" />
<line x1="191.80" y1="678.50" x2="191.80" y2="718.30" stroke="rgb(70,70,70)" stroke-width="1.5" />
<line x1="195.50" y1="678.50" x2="195.50" y2="718.30" stroke="rgb(130,130,130)" stroke-width="1.5" />
<line x1="190.00" y1="678.50" x2="190.00" y2="718.30" stroke="rgb(60,60,60)" stroke-width="1.5" />
<line x1="192.70" y1="678.50" x2="192.70" y2="718.30" stroke="rgb(80,80,80)" stroke-width="1.5" />
<line x1="194.50" y1="678.50" x2="194.50" y2="718.30" stroke="rgb(130,130,130)" stroke-width="1.5" />
<line x1="202.70" y1="678.50" x2="202.70" y2="718.30" stroke="rgb(40,40,40)" stroke-width="1.5" />
<line x1="212.70" y1="678.50" x2="212.70" y2="718.30" stroke="rgb(40,40,40)" stroke-width="1.5" />
<line x1="214.50" y1="678.50" x2="214.50" y2="718.30" stroke="rgb(50,50,50)" stroke-width="1.5" />
<line x1="218.20" y1="678.50" x2="218.20" y2="718.30" stroke="rgb(130,130,130)" stroke-width="1.5" />
<line x1="224.50" y1="678.50" x2="224.50" y2="718.30" stroke="rgb(130,130,130)" stroke-width="1.5" />
<line x1="227.30" y1="678.50" x2="227.30" y2="718.30" stroke="rgb(40,40,40)" stroke-width="1.5" />
<line x1="231.00" y1="678.50" x2="231.00" y2="718.30" stroke="rgb(40,40,40)" stroke-width="1.5" />
<line x1="238.00" y1="678.50" x2="238.00" y2="718.30" stroke="rgb(120,120,120)" stroke-width="1.5" />
<line x1="240.00" y1="678.50" x2="240.00" y2="718.30" stroke="rgb(110,110,110)" stroke-width="1.5" />
<line x1="242.00" y1="678.50" x2="242.00" y2="718.30" stroke="rgb(120,120,120)" stroke-width="1.5" />
<line x1="244.50" y1="678.50" x2="244.50" y2="718.30" stroke="rgb(130,130,130)" stroke-width="1.5" />
<line x1="248.20" y1="678.50" x2="248.20" y2="718.30" stroke="rgb(40,40,40)" stroke-width="1.5" />
<line x1="252.70" y1="678.50" x2="252.70" y2="718.30" stroke="rgb(130,130,130)" stroke-width="1.5" />
<line x1="255.50" y1="678.50" x2="255.50" y2="718.30" stroke="rgb(130,130,130)" stroke-width="1.5" />
<line x1="259.00" y1="678.50" x2="259.00" y2="718.30" stroke="rgb(40,40,40)" stroke-width="1.5" />
<line x1="260.50" y1="678.50" x2="260.50" y2="718.30" stroke="rgb(30,30,30)" stroke-width="1.5" />
<line x1="262.00" y1="678.50" x2="262.00" y2="718.30" stroke="rgb(20,20,20)" stroke-width="1.5" />
<line x1="263.60" y1="678.50" x2="263.60" y2="718.30" stroke="rgb(60,60,60)" stroke-width="1.5" />
<line x1="269.00" y1="678.50" x2="269.00" y2="718.30" stroke="rgb(130,130,130)" stroke-width="1.5" />
<line x1="271.80" y1="678.50" x2="271.80" y2="718.30" stroke="rgb(40,40,40)" stroke-width="1.5" />
<line x1="278.00" y1="678.50" x2="278.00" y2="718.30" stroke="rgb(60,60,60)" stroke-width="1.5" />
<line x1="280.00" y1="678.50" x2="280.00" y2="718.30" stroke="rgb(40,40,40)" stroke-width="1.5" />
<line x1="282.00" y1="678.50" x2="282.00" y2="718.30" stroke="rgb(80,80,80)" stroke-width="1.5" />
<line x1="284.00" y1="678.50" x2="284.00" y2="718.30" stroke="rgb(40,40,40)" stroke-width="1.5" />
<line x1="286.00" y1="678.50" x2="286.00" y2="718.30" stroke="rgb(60,60,60)" stroke-width="1.5" />
<line x1="288.80" y1="678.50" x2="288.80" y2="718.30" stroke="rgb(40,40,40)" stroke-width="1.5" />
<line x1="293.60" y1="678.50" x2="293.60" y2="718.30" stroke="rgb(120,120,120)" stroke-width="1.5" />
<line x1="298.00" y1="678.50" x2="298.00" y2="718.30" stroke="rgb(50,50,50)" stroke-width="1.5" />
<line x1="303.00" y1="678.50" x2="303.00" y2="718.30" stroke="rgb(50,50,50)" stroke-width="1.5" />
<line x1="306.00" y1="678.50" x2="306.00" y2="718.30" stroke="rgb(50,50,50)" stroke-width="1.5" />
<line x1="309.80" y1="678.50" x2="309.80" y2="718.30" stroke="rgb(40,40,40)" stroke-width="1.5" />
<line x1="316.50" y1="678.50" x2="316.50" y2="718.30" stroke="rgb(40,40,40)" stroke-width="1.5" />
<line x1="325.00" y1="678.50" x2="325.00" y2="718.30" stroke="rgb(130,130,130)" stroke-width="1.5" />
<line x1="327.40" y1="678.50" x2="327.40" y2="718.30" stroke="rgb(50,50,50)" stroke-width="1.5" />
<line x1="337.50" y1="678.50" x2="337.50" y2="718.30" stroke="rgb(50,50,50)" stroke-width="1.5" />
<line x1="342.50" y1="678.50" x2="342.50" y2="718.30" stroke="rgb(120,120,120)" stroke-width="1.5" />
<line x1="344.00" y1="678.50" x2="344.00" y2="718.30" stroke="rgb(130,130,130)" stroke-width="1.5" />
<line x1="345.50" y1="678.50" x2="345.50" y2="718.30" stroke="rgb(120,120,120)" stroke-width="1.5" />
<line x1="349.00" y1="678.50" x2="349.00" y2="718.30" stroke="rgb(130,130,130)" stroke-width="1.5" />
<line x1="355.60" y1="678.50" x2="355.60" y2="718.30" stroke="rgb(40,40,40)" stroke-width="1.5" />
<line x1="361.40" y1="678.50" x2="361.40" y2="718.30" stroke="rgb(130,130,130)" stroke-width="1.5" />
<line x1="370.00" y1="678.50" x2="370.00" y2="718.30" stroke="rgb(70,70,70)" stroke-width="1.5" />
<defs><linearGradient id="gD" x1="0" x2="1" y1="0" y2="0"><stop offset="0.000" stop-color="#ff2828"/><stop offset="0.290" stop-color="#ff3a40"/><stop offset="0.507" stop-color="#ff4f5c"/><stop offset="0.725" stop-color="#ff6070"/><stop offset="1.000" stop-color="#ff7a8c"/></linearGradient></defs>
<rect x="110.00" y="718.30" width="138.00" height="9.50" fill="url(#gD)" />
<rect x="248.00" y="718.30" width="34.00" height="9.50" fill="#ffaadd" />
<rect x="282.00" y="718.30" width="41.00" height="9.50" fill="#ccccf6" />
<rect x="323.00" y="718.30" width="14.50" height="9.50" fill="#8888ff" />
<rect x="337.50" y="718.30" width="28.50" height="9.50" fill="#6a50ee" />
<rect x="366.00" y="718.30" width="6.80" height="9.50" fill="#3300cc" />
<text x="111.8" y="735.5" font-size="6.8" font-weight="normal" fill="#ff3333" text-anchor="start" font-family='"Liberation Sans", sans-serif' textLength="100" lengthAdjust="spacingAndGlyphs" >'CTX_NPC' (positively correlated)</text>
<text x="247.8" y="809.7" font-size="6.8" font-weight="normal" fill="#3333ee" text-anchor="start" font-family='"Liberation Sans", sans-serif' textLength="108" lengthAdjust="spacingAndGlyphs" >'CTX_CTRL' (negatively correlated)</text>
<path d="M110,776.80 L110.00,751.38 L110.60,755.80 L112.30,761.33 L115.90,763.98 L119.00,765.53 L123.20,766.74 L131.00,768.18 L141.40,769.40 L159.50,770.83 L177.70,772.16 L195.90,773.04 L220.00,774.15 L250.00,775.47 L283.00,776.80 L300.00,778.90 L318.00,780.34 L336.40,782.21 L354.50,785.31 L363.60,787.85 L369.00,791.72 L371.80,797.13 L372.70,807.74 L373.30,813.26 L373.3,776.80 Z" fill="#c4c4c4" stroke="none"/>
<line x1="283.00" y1="728.50" x2="283.00" y2="811.70" stroke="#d4d4d4" stroke-width="1" stroke-dasharray="2,2"/>
<text x="256.4" y="772.6" font-size="6.8" font-weight="normal" fill="#222" text-anchor="start" font-family='"Liberation Sans", sans-serif' textLength="52.6" lengthAdjust="spacingAndGlyphs" >Zero cross at 14635</text>
<polyline points="110.5,667.4 111.5,660.0 112.7,647.0 113.3,639.5 117.5,645.2 118.8,637.5 120.0,640.0 121.6,633.0 124.7,637.5 126.5,595.5 128.2,597.7 129.3,586.6 131.0,583.0 133.7,580.0 134.5,582.0 138.0,587.0 141.0,590.0 142.5,586.0 146.0,592.0 148.0,588.0 151.5,594.0 153.5,596.0 155.5,589.0 158.0,594.0 160.0,593.5 161.5,584.0 165.0,582.0 168.0,583.0 169.5,576.0 172.0,579.0 174.0,581.0 176.0,571.0 180.0,571.0 183.0,571.5 185.0,568.0 187.5,571.0 190.5,562.0 193.0,558.5 196.0,560.0 200.0,565.0 203.0,567.5 208.0,575.0 213.0,578.0 214.5,575.0 217.0,578.5 219.5,577.0 224.0,582.5 228.0,585.0 231.0,586.0 233.0,583.0 237.0,588.5 242.0,590.0 245.0,589.5 248.5,592.0 251.0,592.5 255.0,595.5 259.0,599.0 262.0,601.0 264.5,600.0 267.0,603.0 272.5,608.5 276.0,614.0 282.0,623.0 288.0,631.0 294.0,638.0 299.5,642.0 303.0,642.5 306.0,643.0 310.0,645.5 313.5,650.0 316.0,649.5 319.0,653.0 324.0,657.5 327.0,657.0 330.0,659.0 335.0,666.0 338.0,665.0 342.0,668.5 344.0,665.0 348.0,666.0 350.0,668.0 354.0,671.0 357.0,659.0 360.0,662.0 361.0,660.0 364.0,664.0 369.0,670.0 370.0,662.0 373.0,664.0" fill="none" stroke="#00ee00" stroke-width="2.8" stroke-linejoin="round"/>
<rect x="271.00" y="554.00" width="76.00" height="38.50" fill="#ffffff" />
<text x="273.2" y="565.0" font-size="11.8" font-weight="bold" fill="#111" text-anchor="start" font-family='"Liberation Sans", sans-serif' >ES: 0.328</text>
<text x="273.2" y="577.0" font-size="11.8" font-weight="bold" fill="#111" text-anchor="start" font-family='"Liberation Sans", sans-serif' >NES: 1.378</text>
<text x="273.2" y="589.0" font-size="11.8" font-weight="bold" fill="#111" text-anchor="start" font-family='"Liberation Sans", sans-serif' >FDR-q: 0.239</text>
<rect x="119.0" y="840.5" width="221.0" height="15.0" fill="#ffffff" stroke="#222" stroke-width="1"/>
<line x1="120.50" y1="848.00" x2="131.00" y2="848.00" stroke="#00ee00" stroke-width="2" />
<text x="132.7" y="851.0" font-size="8.0" font-weight="normal" fill="#333" text-anchor="start" font-family='"Liberation Sans", sans-serif' textLength="64" lengthAdjust="spacingAndGlyphs" >Enrichment profile</text>
<line x1="200.50" y1="848.50" x2="210.50" y2="848.50" stroke="#444" stroke-width="1" />
<text x="213.0" y="851.0" font-size="8.0" font-weight="normal" fill="#333" text-anchor="start" font-family='"Liberation Sans", sans-serif' >Hits</text>
<line x1="246.00" y1="848.50" x2="256.00" y2="848.50" stroke="#d0d0d0" stroke-width="1" />
<text x="258.0" y="851.0" font-size="8.0" font-weight="normal" fill="#222" text-anchor="start" font-family='"Liberation Sans", sans-serif' textLength="80" lengthAdjust="spacingAndGlyphs" >Ranking metric scores</text>
<rect x="408.70" y="14.50" width="9.28" height="115.30" fill="#c0c0c0" />
<rect x="417.98" y="14.50" width="9.28" height="115.30" fill="#c0c0c0" />
<rect x="427.26" y="14.50" width="9.28" height="115.30" fill="#c0c0c0" />
<rect x="436.54" y="14.50" width="9.28" height="115.30" fill="#ffc400" />
<rect x="445.82" y="14.50" width="9.28" height="115.30" fill="#ffc400" />
<rect x="455.10" y="14.50" width="9.28" height="115.30" fill="#ffc400" />
<rect x="408.70" y="129.80" width="55.68" height="19.80" fill="#ffffff" />
<text transform="translate(418.64,128.30) rotate(-90)" font-size="8.8" fill="#2a2a2a" font-weight="bold" font-family='"Liberation Mono", monospace' textLength="84.8" lengthAdjust="spacingAndGlyphs">cortex_control_1</text>
<text transform="translate(427.92,128.30) rotate(-90)" font-size="8.8" fill="#2a2a2a" font-weight="bold" font-family='"Liberation Mono", monospace' textLength="84.8" lengthAdjust="spacingAndGlyphs">cortex_control_2</text>
<text transform="translate(437.20,128.30) rotate(-90)" font-size="8.8" fill="#2a2a2a" font-weight="bold" font-family='"Liberation Mono", monospace' textLength="84.8" lengthAdjust="spacingAndGlyphs">cortex_control_3</text>
<text transform="translate(446.48,128.30) rotate(-90)" font-size="8.8" fill="#2a2a2a" font-weight="bold" font-family='"Liberation Mono", monospace' textLength="106.0" lengthAdjust="spacingAndGlyphs">cerebellum_control_1</text>
<text transform="translate(455.76,128.30) rotate(-90)" font-size="8.8" fill="#2a2a2a" font-weight="bold" font-family='"Liberation Mono", monospace' textLength="106.0" lengthAdjust="spacingAndGlyphs">cerebellum_control_2</text>
<text transform="translate(465.04,128.30) rotate(-90)" font-size="8.8" fill="#2a2a2a" font-weight="bold" font-family='"Liberation Mono", monospace' textLength="106.0" lengthAdjust="spacingAndGlyphs">cerebellum_control_3</text>
<line x1="408.70" y1="14.50" x2="408.70" y2="149.60" stroke="#555" stroke-width="1" />
<line x1="417.98" y1="14.50" x2="417.98" y2="149.60" stroke="#555" stroke-width="1" />
<line x1="427.26" y1="14.50" x2="427.26" y2="149.60" stroke="#555" stroke-width="1" />
<line x1="436.54" y1="14.50" x2="436.54" y2="149.60" stroke="#555" stroke-width="1" />
<line x1="445.82" y1="14.50" x2="445.82" y2="149.60" stroke="#555" stroke-width="1" />
<line x1="455.10" y1="14.50" x2="455.10" y2="149.60" stroke="#555" stroke-width="1" />
<line x1="464.38" y1="14.50" x2="464.38" y2="149.60" stroke="#555" stroke-width="1" />
<rect x="408.70" y="149.60" width="9.28" height="9.15" fill="#8c8cff" />
<rect x="417.98" y="149.60" width="9.28" height="9.15" fill="#6b58ef" />
<rect x="427.26" y="149.60" width="9.28" height="9.15" fill="#4500ad" />
<rect x="436.54" y="149.60" width="9.28" height="9.15" fill="#ff0000" />
<rect x="445.82" y="149.60" width="9.28" height="9.15" fill="#ff0000" />
<rect x="455.10" y="149.60" width="9.28" height="9.15" fill="#ff0000" />
<rect x="408.70" y="158.75" width="9.28" height="9.15" fill="#4500ad" />
<rect x="417.98" y="158.75" width="9.28" height="9.15" fill="#4500ad" />
<rect x="427.26" y="158.75" width="9.28" height="9.15" fill="#ffc0e5" />
<rect x="436.54" y="158.75" width="9.28" height="9.15" fill="#c7c1ff" />
<rect x="445.82" y="158.75" width="9.28" height="9.15" fill="#ffc0e5" />
<rect x="455.10" y="158.75" width="9.28" height="9.15" fill="#ff0000" />
<rect x="408.70" y="167.90" width="9.28" height="9.15" fill="#dcdcff" />
<rect x="417.98" y="167.90" width="9.28" height="9.15" fill="#4500ad" />
<rect x="427.26" y="167.90" width="9.28" height="9.15" fill="#4500ad" />
<rect x="436.54" y="167.90" width="9.28" height="9.15" fill="#ffc0e5" />
<rect x="445.82" y="167.90" width="9.28" height="9.15" fill="#ff8989" />
<rect x="455.10" y="167.90" width="9.28" height="9.15" fill="#ff0000" />
<rect x="408.70" y="177.05" width="9.28" height="9.15" fill="#8c8cff" />
<rect x="417.98" y="177.05" width="9.28" height="9.15" fill="#ffc0e5" />
<rect x="427.26" y="177.05" width="9.28" height="9.15" fill="#4500ad" />
<rect x="436.54" y="177.05" width="9.28" height="9.15" fill="#ffc0e5" />
<rect x="445.82" y="177.05" width="9.28" height="9.15" fill="#ffc0e5" />
<rect x="455.10" y="177.05" width="9.28" height="9.15" fill="#ff0000" />
<rect x="408.70" y="186.20" width="9.28" height="9.15" fill="#8c8cff" />
<rect x="417.98" y="186.20" width="9.28" height="9.15" fill="#8c8cff" />
<rect x="427.26" y="186.20" width="9.28" height="9.15" fill="#4500ad" />
<rect x="436.54" y="186.20" width="9.28" height="9.15" fill="#ff0000" />
<rect x="445.82" y="186.20" width="9.28" height="9.15" fill="#ffc0e5" />
<rect x="455.10" y="186.20" width="9.28" height="9.15" fill="#ff5a5a" />
<rect x="408.70" y="195.35" width="9.28" height="9.15" fill="#4500ad" />
<rect x="417.98" y="195.35" width="9.28" height="9.15" fill="#6b58ef" />
<rect x="427.26" y="195.35" width="9.28" height="9.15" fill="#8c8cff" />
<rect x="436.54" y="195.35" width="9.28" height="9.15" fill="#ff0000" />
<rect x="445.82" y="195.35" width="9.28" height="9.15" fill="#ff8989" />
<rect x="455.10" y="195.35" width="9.28" height="9.15" fill="#ff5a5a" />
<rect x="408.70" y="204.50" width="9.28" height="9.15" fill="#4500ad" />
<rect x="417.98" y="204.50" width="9.28" height="9.15" fill="#4500ad" />
<rect x="427.26" y="204.50" width="9.28" height="9.15" fill="#2a00d5" />
<rect x="436.54" y="204.50" width="9.28" height="9.15" fill="#ff5a5a" />
<rect x="445.82" y="204.50" width="9.28" height="9.15" fill="#ff0000" />
<rect x="455.10" y="204.50" width="9.28" height="9.15" fill="#ff0000" />
<rect x="408.70" y="213.65" width="9.28" height="9.15" fill="#4500ad" />
<rect x="417.98" y="213.65" width="9.28" height="9.15" fill="#8c8cff" />
<rect x="427.26" y="213.65" width="9.28" height="9.15" fill="#6b58ef" />
<rect x="436.54" y="213.65" width="9.28" height="9.15" fill="#ffc0e5" />
<rect x="445.82" y="213.65" width="9.28" height="9.15" fill="#ff0000" />
<rect x="455.10" y="213.65" width="9.28" height="9.15" fill="#ff0000" />
<rect x="408.70" y="222.80" width="9.28" height="9.15" fill="#dcdcff" />
<rect x="417.98" y="222.80" width="9.28" height="9.15" fill="#4500ad" />
<rect x="427.26" y="222.80" width="9.28" height="9.15" fill="#8c8cff" />
<rect x="436.54" y="222.80" width="9.28" height="9.15" fill="#ff0000" />
<rect x="445.82" y="222.80" width="9.28" height="9.15" fill="#ff8989" />
<rect x="455.10" y="222.80" width="9.28" height="9.15" fill="#c7c1ff" />
<rect x="408.70" y="231.95" width="9.28" height="9.15" fill="#2a00d5" />
<rect x="417.98" y="231.95" width="9.28" height="9.15" fill="#8c8cff" />
<rect x="427.26" y="231.95" width="9.28" height="9.15" fill="#4500ad" />
<rect x="436.54" y="231.95" width="9.28" height="9.15" fill="#ff0000" />
<rect x="445.82" y="231.95" width="9.28" height="9.15" fill="#ffc0e5" />
<rect x="455.10" y="231.95" width="9.28" height="9.15" fill="#ff8989" />
<rect x="408.70" y="241.10" width="9.28" height="9.15" fill="#4500ad" />
<rect x="417.98" y="241.10" width="9.28" height="9.15" fill="#c7c1ff" />
<rect x="427.26" y="241.10" width="9.28" height="9.15" fill="#c7c1ff" />
<rect x="436.54" y="241.10" width="9.28" height="9.15" fill="#ff0000" />
<rect x="445.82" y="241.10" width="9.28" height="9.15" fill="#c7c1ff" />
<rect x="455.10" y="241.10" width="9.28" height="9.15" fill="#ff8989" />
<rect x="408.70" y="250.25" width="9.28" height="9.15" fill="#dcdcff" />
<rect x="417.98" y="250.25" width="9.28" height="9.15" fill="#2a00d5" />
<rect x="427.26" y="250.25" width="9.28" height="9.15" fill="#4500ad" />
<rect x="436.54" y="250.25" width="9.28" height="9.15" fill="#ffc0e5" />
<rect x="445.82" y="250.25" width="9.28" height="9.15" fill="#ff8989" />
<rect x="455.10" y="250.25" width="9.28" height="9.15" fill="#ff0000" />
<rect x="408.70" y="259.40" width="9.28" height="9.15" fill="#4500ad" />
<rect x="417.98" y="259.40" width="9.28" height="9.15" fill="#8c8cff" />
<rect x="427.26" y="259.40" width="9.28" height="9.15" fill="#c7c1ff" />
<rect x="436.54" y="259.40" width="9.28" height="9.15" fill="#ff0000" />
<rect x="445.82" y="259.40" width="9.28" height="9.15" fill="#ff5a5a" />
<rect x="455.10" y="259.40" width="9.28" height="9.15" fill="#c7c1ff" />
<rect x="408.70" y="268.55" width="9.28" height="9.15" fill="#6b58ef" />
<rect x="417.98" y="268.55" width="9.28" height="9.15" fill="#c7c1ff" />
<rect x="427.26" y="268.55" width="9.28" height="9.15" fill="#4500ad" />
<rect x="436.54" y="268.55" width="9.28" height="9.15" fill="#ff0000" />
<rect x="445.82" y="268.55" width="9.28" height="9.15" fill="#ff5a5a" />
<rect x="455.10" y="268.55" width="9.28" height="9.15" fill="#ff5a5a" />
<rect x="408.70" y="277.70" width="9.28" height="9.15" fill="#6b58ef" />
<rect x="417.98" y="277.70" width="9.28" height="9.15" fill="#2a00d5" />
<rect x="427.26" y="277.70" width="9.28" height="9.15" fill="#4500ad" />
<rect x="436.54" y="277.70" width="9.28" height="9.15" fill="#ff0000" />
<rect x="445.82" y="277.70" width="9.28" height="9.15" fill="#ff8989" />
<rect x="455.10" y="277.70" width="9.28" height="9.15" fill="#ff0000" />
<rect x="408.70" y="286.85" width="9.28" height="9.15" fill="#dcdcff" />
<rect x="417.98" y="286.85" width="9.28" height="9.15" fill="#6b58ef" />
<rect x="427.26" y="286.85" width="9.28" height="9.15" fill="#4500ad" />
<rect x="436.54" y="286.85" width="9.28" height="9.15" fill="#ff8989" />
<rect x="445.82" y="286.85" width="9.28" height="9.15" fill="#ff5a5a" />
<rect x="455.10" y="286.85" width="9.28" height="9.15" fill="#ff0000" />
<rect x="408.70" y="296.00" width="9.28" height="9.15" fill="#4500ad" />
<rect x="417.98" y="296.00" width="9.28" height="9.15" fill="#8c8cff" />
<rect x="427.26" y="296.00" width="9.28" height="9.15" fill="#6b58ef" />
<rect x="436.54" y="296.00" width="9.28" height="9.15" fill="#ff8989" />
<rect x="445.82" y="296.00" width="9.28" height="9.15" fill="#ff0000" />
<rect x="455.10" y="296.00" width="9.28" height="9.15" fill="#c7c1ff" />
<rect x="408.70" y="305.15" width="9.28" height="9.15" fill="#8c8cff" />
<rect x="417.98" y="305.15" width="9.28" height="9.15" fill="#2a00d5" />
<rect x="427.26" y="305.15" width="9.28" height="9.15" fill="#4500ad" />
<rect x="436.54" y="305.15" width="9.28" height="9.15" fill="#c7c1ff" />
<rect x="445.82" y="305.15" width="9.28" height="9.15" fill="#ff5a5a" />
<rect x="455.10" y="305.15" width="9.28" height="9.15" fill="#ff0000" />
<rect x="408.70" y="314.30" width="9.28" height="9.15" fill="#2a00d5" />
<rect x="417.98" y="314.30" width="9.28" height="9.15" fill="#4500ad" />
<rect x="427.26" y="314.30" width="9.28" height="9.15" fill="#4500ad" />
<rect x="436.54" y="314.30" width="9.28" height="9.15" fill="#ff0000" />
<rect x="445.82" y="314.30" width="9.28" height="9.15" fill="#ff0000" />
<rect x="455.10" y="314.30" width="9.28" height="9.15" fill="#ff8989" />
<rect x="408.70" y="323.45" width="9.28" height="9.15" fill="#2a00d5" />
<rect x="417.98" y="323.45" width="9.28" height="9.15" fill="#4500ad" />
<rect x="427.26" y="323.45" width="9.28" height="9.15" fill="#4500ad" />
<rect x="436.54" y="323.45" width="9.28" height="9.15" fill="#ff5a5a" />
<rect x="445.82" y="323.45" width="9.28" height="9.15" fill="#ff0000" />
<rect x="455.10" y="323.45" width="9.28" height="9.15" fill="#c7c1ff" />
<rect x="408.70" y="332.60" width="9.28" height="9.15" fill="#8c8cff" />
<rect x="417.98" y="332.60" width="9.28" height="9.15" fill="#4500ad" />
<rect x="427.26" y="332.60" width="9.28" height="9.15" fill="#4500ad" />
<rect x="436.54" y="332.60" width="9.28" height="9.15" fill="#ff0000" />
<rect x="445.82" y="332.60" width="9.28" height="9.15" fill="#ff5a5a" />
<rect x="455.10" y="332.60" width="9.28" height="9.15" fill="#ff8989" />
<rect x="408.70" y="341.75" width="9.28" height="9.15" fill="#2a00d5" />
<rect x="417.98" y="341.75" width="9.28" height="9.15" fill="#4500ad" />
<rect x="427.26" y="341.75" width="9.28" height="9.15" fill="#4500ad" />
<rect x="436.54" y="341.75" width="9.28" height="9.15" fill="#ff8989" />
<rect x="445.82" y="341.75" width="9.28" height="9.15" fill="#ff0000" />
<rect x="455.10" y="341.75" width="9.28" height="9.15" fill="#ff8989" />
<rect x="408.70" y="350.90" width="9.28" height="9.15" fill="#8c8cff" />
<rect x="417.98" y="350.90" width="9.28" height="9.15" fill="#4500ad" />
<rect x="427.26" y="350.90" width="9.28" height="9.15" fill="#4500ad" />
<rect x="436.54" y="350.90" width="9.28" height="9.15" fill="#ff5a5a" />
<rect x="445.82" y="350.90" width="9.28" height="9.15" fill="#ff0000" />
<rect x="455.10" y="350.90" width="9.28" height="9.15" fill="#ff5a5a" />
<rect x="408.70" y="360.05" width="9.28" height="9.15" fill="#6b58ef" />
<rect x="417.98" y="360.05" width="9.28" height="9.15" fill="#2a00d5" />
<rect x="427.26" y="360.05" width="9.28" height="9.15" fill="#4500ad" />
<rect x="436.54" y="360.05" width="9.28" height="9.15" fill="#ff5a5a" />
<rect x="445.82" y="360.05" width="9.28" height="9.15" fill="#ff0000" />
<rect x="455.10" y="360.05" width="9.28" height="9.15" fill="#ff5a5a" />
<rect x="408.70" y="369.20" width="9.28" height="9.15" fill="#4500ad" />
<rect x="417.98" y="369.20" width="9.28" height="9.15" fill="#2a00d5" />
<rect x="427.26" y="369.20" width="9.28" height="9.15" fill="#4500ad" />
<rect x="436.54" y="369.20" width="9.28" height="9.15" fill="#ff8989" />
<rect x="445.82" y="369.20" width="9.28" height="9.15" fill="#ff0000" />
<rect x="455.10" y="369.20" width="9.28" height="9.15" fill="#ff5a5a" />
<rect x="408.70" y="378.35" width="9.28" height="9.15" fill="#4500ad" />
<rect x="417.98" y="378.35" width="9.28" height="9.15" fill="#4500ad" />
<rect x="427.26" y="378.35" width="9.28" height="9.15" fill="#2a00d5" />
<rect x="436.54" y="378.35" width="9.28" height="9.15" fill="#ff5a5a" />
<rect x="445.82" y="378.35" width="9.28" height="9.15" fill="#ff0000" />
<rect x="455.10" y="378.35" width="9.28" height="9.15" fill="#dcdcff" />
<line x1="408.70" y1="149.60" x2="408.70" y2="387.50" stroke="#1a1a1a" stroke-width="1" />
<line x1="417.98" y1="149.60" x2="417.98" y2="387.50" stroke="#1a1a1a" stroke-width="1" />
<line x1="427.26" y1="149.60" x2="427.26" y2="387.50" stroke="#1a1a1a" stroke-width="1" />
<line x1="436.54" y1="149.60" x2="436.54" y2="387.50" stroke="#1a1a1a" stroke-width="1" />
<line x1="445.82" y1="149.60" x2="445.82" y2="387.50" stroke="#1a1a1a" stroke-width="1" />
<line x1="455.10" y1="149.60" x2="455.10" y2="387.50" stroke="#1a1a1a" stroke-width="1" />
<line x1="464.38" y1="149.60" x2="464.38" y2="387.50" stroke="#1a1a1a" stroke-width="1" />
<line x1="408.70" y1="149.60" x2="464.38" y2="149.60" stroke="#1a1a1a" stroke-width="1" />
<line x1="408.70" y1="158.75" x2="464.38" y2="158.75" stroke="#1a1a1a" stroke-width="1" />
<line x1="408.70" y1="167.90" x2="464.38" y2="167.90" stroke="#1a1a1a" stroke-width="1" />
<line x1="408.70" y1="177.05" x2="464.38" y2="177.05" stroke="#1a1a1a" stroke-width="1" />
<line x1="408.70" y1="186.20" x2="464.38" y2="186.20" stroke="#1a1a1a" stroke-width="1" />
<line x1="408.70" y1="195.35" x2="464.38" y2="195.35" stroke="#1a1a1a" stroke-width="1" />
<line x1="408.70" y1="204.50" x2="464.38" y2="204.50" stroke="#1a1a1a" stroke-width="1" />
<line x1="408.70" y1="213.65" x2="464.38" y2="213.65" stroke="#1a1a1a" stroke-width="1" />
<line x1="408.70" y1="222.80" x2="464.38" y2="222.80" stroke="#1a1a1a" stroke-width="1" />
<line x1="408.70" y1="231.95" x2="464.38" y2="231.95" stroke="#1a1a1a" stroke-width="1" />
<line x1="408.70" y1="241.10" x2="464.38" y2="241.10" stroke="#1a1a1a" stroke-width="1" />
<line x1="408.70" y1="250.25" x2="464.38" y2="250.25" stroke="#1a1a1a" stroke-width="1" />
<line x1="408.70" y1="259.40" x2="464.38" y2="259.40" stroke="#1a1a1a" stroke-width="1" />
<line x1="408.70" y1="268.55" x2="464.38" y2="268.55" stroke="#1a1a1a" stroke-width="1" />
<line x1="408.70" y1="277.70" x2="464.38" y2="277.70" stroke="#1a1a1a" stroke-width="1" />
<line x1="408.70" y1="286.85" x2="464.38" y2="286.85" stroke="#1a1a1a" stroke-width="1" />
<line x1="408.70" y1="296.00" x2="464.38" y2="296.00" stroke="#1a1a1a" stroke-width="1" />
<line x1="408.70" y1="305.15" x2="464.38" y2="305.15" stroke="#1a1a1a" stroke-width="1" />
<line x1="408.70" y1="314.30" x2="464.38" y2="314.30" stroke="#1a1a1a" stroke-width="1" />
<line x1="408.70" y1="323.45" x2="464.38" y2="323.45" stroke="#1a1a1a" stroke-width="1" />
<line x1="408.70" y1="332.60" x2="464.38" y2="332.60" stroke="#1a1a1a" stroke-width="1" />
<line x1="408.70" y1="341.75" x2="464.38" y2="341.75" stroke="#1a1a1a" stroke-width="1" />
<line x1="408.70" y1="350.90" x2="464.38" y2="350.90" stroke="#1a1a1a" stroke-width="1" />
<line x1="408.70" y1="360.05" x2="464.38" y2="360.05" stroke="#1a1a1a" stroke-width="1" />
<line x1="408.70" y1="369.20" x2="464.38" y2="369.20" stroke="#1a1a1a" stroke-width="1" />
<line x1="408.70" y1="378.35" x2="464.38" y2="378.35" stroke="#1a1a1a" stroke-width="1" />
<line x1="408.70" y1="387.50" x2="464.38" y2="387.50" stroke="#1a1a1a" stroke-width="1" />
<line x1="464.38" y1="130.00" x2="464.38" y2="387.50" stroke="#555" stroke-width="1" />
<text x="473.1" y="140.5" font-size="11.3" font-weight="normal" fill="#333" text-anchor="start" font-family='"Liberation Mono", monospace' textLength="68.0" lengthAdjust="spacingAndGlyphs" >SampleName</text>
<line x1="464.38" y1="149.60" x2="546.50" y2="149.60" stroke="#555" stroke-width="1.3" />
<line x1="464.38" y1="158.75" x2="539.50" y2="158.75" stroke="#333" stroke-width="1" />
<text x="471.8" y="158.35" font-size="8.5" font-weight="normal" fill="#333" text-anchor="start" font-family='"Liberation Mono", monospace' textLength="20.2" lengthAdjust="spacingAndGlyphs" >Chuk</text>
<line x1="464.38" y1="167.90" x2="539.50" y2="167.90" stroke="#333" stroke-width="1" />
<text x="471.8" y="167.5" font-size="8.5" font-weight="normal" fill="#333" text-anchor="start" font-family='"Liberation Mono", monospace' textLength="25.25" lengthAdjust="spacingAndGlyphs" >Fanca</text>
<line x1="464.38" y1="177.05" x2="539.50" y2="177.05" stroke="#333" stroke-width="1" />
<text x="471.8" y="176.65" font-size="8.5" font-weight="normal" fill="#333" text-anchor="start" font-family='"Liberation Mono", monospace' textLength="25.25" lengthAdjust="spacingAndGlyphs" >Ikbkg</text>
<line x1="464.38" y1="186.20" x2="539.50" y2="186.20" stroke="#333" stroke-width="1" />
<text x="471.8" y="185.79999999999998" font-size="8.5" font-weight="normal" fill="#333" text-anchor="start" font-family='"Liberation Mono", monospace' textLength="20.2" lengthAdjust="spacingAndGlyphs" >Mavs</text>
<line x1="464.38" y1="195.35" x2="539.50" y2="195.35" stroke="#333" stroke-width="1" />
<text x="471.8" y="194.95" font-size="8.5" font-weight="normal" fill="#333" text-anchor="start" font-family='"Liberation Mono", monospace' textLength="25.25" lengthAdjust="spacingAndGlyphs" >Fancc</text>
<line x1="464.38" y1="204.50" x2="539.50" y2="204.50" stroke="#333" stroke-width="1" />
<text x="471.8" y="204.1" font-size="8.5" font-weight="normal" fill="#333" text-anchor="start" font-family='"Liberation Mono", monospace' textLength="25.25" lengthAdjust="spacingAndGlyphs" >Fancf</text>
<line x1="464.38" y1="213.65" x2="539.50" y2="213.65" stroke="#333" stroke-width="1" />
<text x="471.8" y="213.24999999999997" font-size="8.5" font-weight="normal" fill="#333" text-anchor="start" font-family='"Liberation Mono", monospace' textLength="30.299999999999997" lengthAdjust="spacingAndGlyphs" >Ifnar1</text>
<line x1="464.38" y1="222.80" x2="539.50" y2="222.80" stroke="#333" stroke-width="1" />
<text x="471.8" y="222.4" font-size="8.5" font-weight="normal" fill="#333" text-anchor="start" font-family='"Liberation Mono", monospace' textLength="20.2" lengthAdjust="spacingAndGlyphs" >Tyk2</text>
<line x1="464.38" y1="231.95" x2="539.50" y2="231.95" stroke="#333" stroke-width="1" />
<text x="471.8" y="231.54999999999998" font-size="8.5" font-weight="normal" fill="#333" text-anchor="start" font-family='"Liberation Mono", monospace' textLength="25.25" lengthAdjust="spacingAndGlyphs" >Sphk1</text>
<line x1="464.38" y1="241.10" x2="539.50" y2="241.10" stroke="#333" stroke-width="1" />
<text x="471.8" y="240.7" font-size="8.5" font-weight="normal" fill="#333" text-anchor="start" font-family='"Liberation Mono", monospace' textLength="25.25" lengthAdjust="spacingAndGlyphs" >Ikbkb</text>
<line x1="464.38" y1="250.25" x2="539.50" y2="250.25" stroke="#333" stroke-width="1" />
<text x="471.8" y="249.85" font-size="8.5" font-weight="normal" fill="#333" text-anchor="start" font-family='"Liberation Mono", monospace' textLength="30.299999999999997" lengthAdjust="spacingAndGlyphs" >Eif4g3</text>
<line x1="464.38" y1="259.40" x2="539.50" y2="259.40" stroke="#333" stroke-width="1" />
<text x="471.8" y="259.0" font-size="8.5" font-weight="normal" fill="#333" text-anchor="start" font-family='"Liberation Mono", monospace' textLength="25.25" lengthAdjust="spacingAndGlyphs" >Socs1</text>
<line x1="464.38" y1="268.55" x2="539.50" y2="268.55" stroke="#333" stroke-width="1" />
<text x="471.8" y="268.15000000000003" font-size="8.5" font-weight="normal" fill="#333" text-anchor="start" font-family='"Liberation Mono", monospace' textLength="25.25" lengthAdjust="spacingAndGlyphs" >Fancm</text>
<line x1="464.38" y1="277.70" x2="539.50" y2="277.70" stroke="#333" stroke-width="1" />
<text x="471.8" y="277.3" font-size="8.5" font-weight="normal" fill="#333" text-anchor="start" font-family='"Liberation Mono", monospace' textLength="35.35" lengthAdjust="spacingAndGlyphs" >Eif2ak2</text>
<line x1="464.38" y1="286.85" x2="539.50" y2="286.85" stroke="#333" stroke-width="1" />
<text x="471.8" y="286.45000000000005" font-size="8.5" font-weight="normal" fill="#333" text-anchor="start" font-family='"Liberation Mono", monospace' textLength="25.25" lengthAdjust="spacingAndGlyphs" >Prkra</text>
<line x1="464.38" y1="296.00" x2="539.50" y2="296.00" stroke="#333" stroke-width="1" />
<text x="471.8" y="295.6" font-size="8.5" font-weight="normal" fill="#333" text-anchor="start" font-family='"Liberation Mono", monospace' textLength="30.299999999999997" lengthAdjust="spacingAndGlyphs" >Camk2d</text>
<line x1="464.38" y1="305.15" x2="539.50" y2="305.15" stroke="#333" stroke-width="1" />
<text x="471.8" y="304.75" font-size="8.5" font-weight="normal" fill="#333" text-anchor="start" font-family='"Liberation Mono", monospace' textLength="25.25" lengthAdjust="spacingAndGlyphs" >Ptpn2</text>
<line x1="464.38" y1="314.30" x2="539.50" y2="314.30" stroke="#333" stroke-width="1" />
<text x="471.8" y="313.90000000000003" font-size="8.5" font-weight="normal" fill="#333" text-anchor="start" font-family='"Liberation Mono", monospace' textLength="25.25" lengthAdjust="spacingAndGlyphs" >Tubb6</text>
<line x1="464.38" y1="323.45" x2="539.50" y2="323.45" stroke="#333" stroke-width="1" />
<text x="471.8" y="323.05" font-size="8.5" font-weight="normal" fill="#333" text-anchor="start" font-family='"Liberation Mono", monospace' textLength="30.299999999999997" lengthAdjust="spacingAndGlyphs" >Tarbp2</text>
<line x1="464.38" y1="332.60" x2="539.50" y2="332.60" stroke="#333" stroke-width="1" />
<text x="471.8" y="332.20000000000005" font-size="8.5" font-weight="normal" fill="#333" text-anchor="start" font-family='"Liberation Mono", monospace' textLength="25.25" lengthAdjust="spacingAndGlyphs" >Stat2</text>
<line x1="464.38" y1="341.75" x2="539.50" y2="341.75" stroke="#333" stroke-width="1" />
<text x="471.8" y="341.35" font-size="8.5" font-weight="normal" fill="#333" text-anchor="start" font-family='"Liberation Mono", monospace' textLength="30.299999999999997" lengthAdjust="spacingAndGlyphs" >Eif4g2</text>
<line x1="464.38" y1="350.90" x2="539.50" y2="350.90" stroke="#333" stroke-width="1" />
<text x="471.8" y="350.5" font-size="8.5" font-weight="normal" fill="#333" text-anchor="start" font-family='"Liberation Mono", monospace' textLength="20.2" lengthAdjust="spacingAndGlyphs" >Nck1</text>
<line x1="464.38" y1="360.05" x2="539.50" y2="360.05" stroke="#333" stroke-width="1" />
<text x="471.8" y="359.65000000000003" font-size="8.5" font-weight="normal" fill="#333" text-anchor="start" font-family='"Liberation Mono", monospace' textLength="20.2" lengthAdjust="spacingAndGlyphs" >Raf1</text>
<line x1="464.38" y1="369.20" x2="539.50" y2="369.20" stroke="#333" stroke-width="1" />
<text x="471.8" y="368.80000000000007" font-size="8.5" font-weight="normal" fill="#333" text-anchor="start" font-family='"Liberation Mono", monospace' textLength="20.2" lengthAdjust="spacingAndGlyphs" >Irf3</text>
<line x1="464.38" y1="378.35" x2="539.50" y2="378.35" stroke="#333" stroke-width="1" />
<text x="471.8" y="377.95000000000005" font-size="8.5" font-weight="normal" fill="#333" text-anchor="start" font-family='"Liberation Mono", monospace' textLength="35.35" lengthAdjust="spacingAndGlyphs" >Ppp2r1b</text>
<line x1="464.38" y1="387.50" x2="539.50" y2="387.50" stroke="#333" stroke-width="1" />
<text x="471.8" y="387.1" font-size="8.5" font-weight="normal" fill="#333" text-anchor="start" font-family='"Liberation Mono", monospace' textLength="25.25" lengthAdjust="spacingAndGlyphs" >Tuba8</text>
<rect x="413.00" y="439.90" width="8.30" height="82.80" fill="#c0c0c0" />
<rect x="421.30" y="439.90" width="8.30" height="82.80" fill="#c0c0c0" />
<rect x="429.60" y="439.90" width="8.30" height="82.80" fill="#c0c0c0" />
<rect x="437.90" y="439.90" width="8.30" height="82.80" fill="#ffc400" />
<rect x="446.20" y="439.90" width="8.30" height="82.80" fill="#ffc400" />
<rect x="454.50" y="439.90" width="8.30" height="82.80" fill="#ffc400" />
<rect x="413.00" y="522.70" width="49.80" height="18.50" fill="#ffffff" />
<text transform="translate(421.25,521.20) rotate(-90)" font-size="7.8" fill="#2a2a2a" font-weight="bold" font-family='"Liberation Mono", monospace' textLength="56.4" lengthAdjust="spacingAndGlyphs">cortex_npc_1</text>
<text transform="translate(429.55,521.20) rotate(-90)" font-size="7.8" fill="#2a2a2a" font-weight="bold" font-family='"Liberation Mono", monospace' textLength="56.4" lengthAdjust="spacingAndGlyphs">cortex_npc_2</text>
<text transform="translate(437.85,521.20) rotate(-90)" font-size="7.8" fill="#2a2a2a" font-weight="bold" font-family='"Liberation Mono", monospace' textLength="56.4" lengthAdjust="spacingAndGlyphs">cortex_npc_3</text>
<text transform="translate(446.15,521.20) rotate(-90)" font-size="7.8" fill="#2a2a2a" font-weight="bold" font-family='"Liberation Mono", monospace' textLength="75.2" lengthAdjust="spacingAndGlyphs">cortex_control_1</text>
<text transform="translate(454.45,521.20) rotate(-90)" font-size="7.8" fill="#2a2a2a" font-weight="bold" font-family='"Liberation Mono", monospace' textLength="75.2" lengthAdjust="spacingAndGlyphs">cortex_control_2</text>
<text transform="translate(462.75,521.20) rotate(-90)" font-size="7.8" fill="#2a2a2a" font-weight="bold" font-family='"Liberation Mono", monospace' textLength="75.2" lengthAdjust="spacingAndGlyphs">cortex_control_3</text>
<line x1="413.00" y1="439.90" x2="413.00" y2="541.20" stroke="#555" stroke-width="1" />
<line x1="421.30" y1="439.90" x2="421.30" y2="541.20" stroke="#555" stroke-width="1" />
<line x1="429.60" y1="439.90" x2="429.60" y2="541.20" stroke="#555" stroke-width="1" />
<line x1="437.90" y1="439.90" x2="437.90" y2="541.20" stroke="#555" stroke-width="1" />
<line x1="446.20" y1="439.90" x2="446.20" y2="541.20" stroke="#555" stroke-width="1" />
<line x1="454.50" y1="439.90" x2="454.50" y2="541.20" stroke="#555" stroke-width="1" />
<line x1="462.80" y1="439.90" x2="462.80" y2="541.20" stroke="#555" stroke-width="1" />
<rect x="413.00" y="541.20" width="8.30" height="8.26" fill="#c7c1ff" />
<rect x="421.30" y="541.20" width="8.30" height="8.26" fill="#ff0000" />
<rect x="429.60" y="541.20" width="8.30" height="8.26" fill="#ff5a5a" />
<rect x="437.90" y="541.20" width="8.30" height="8.26" fill="#2a00d5" />
<rect x="446.20" y="541.20" width="8.30" height="8.26" fill="#4500ad" />
<rect x="454.50" y="541.20" width="8.30" height="8.26" fill="#4500ad" />
<rect x="413.00" y="549.46" width="8.30" height="8.26" fill="#ffc0e5" />
<rect x="421.30" y="549.46" width="8.30" height="8.26" fill="#ff0000" />
<rect x="429.60" y="549.46" width="8.30" height="8.26" fill="#ff8989" />
<rect x="437.90" y="549.46" width="8.30" height="8.26" fill="#4500ad" />
<rect x="446.20" y="549.46" width="8.30" height="8.26" fill="#4500ad" />
<rect x="454.50" y="549.46" width="8.30" height="8.26" fill="#4500ad" />
<rect x="413.00" y="557.72" width="8.30" height="8.26" fill="#c7c1ff" />
<rect x="421.30" y="557.72" width="8.30" height="8.26" fill="#ff0000" />
<rect x="429.60" y="557.72" width="8.30" height="8.26" fill="#ff5a5a" />
<rect x="437.90" y="557.72" width="8.30" height="8.26" fill="#8c8cff" />
<rect x="446.20" y="557.72" width="8.30" height="8.26" fill="#2a00d5" />
<rect x="454.50" y="557.72" width="8.30" height="8.26" fill="#4500ad" />
<rect x="413.00" y="565.98" width="8.30" height="8.26" fill="#8c8cff" />
<rect x="421.30" y="565.98" width="8.30" height="8.26" fill="#ff0000" />
<rect x="429.60" y="565.98" width="8.30" height="8.26" fill="#ff5a5a" />
<rect x="437.90" y="565.98" width="8.30" height="8.26" fill="#2a00d5" />
<rect x="446.20" y="565.98" width="8.30" height="8.26" fill="#8c8cff" />
<rect x="454.50" y="565.98" width="8.30" height="8.26" fill="#4500ad" />
<rect x="413.00" y="574.24" width="8.30" height="8.26" fill="#8c8cff" />
<rect x="421.30" y="574.24" width="8.30" height="8.26" fill="#ff0000" />
<rect x="429.60" y="574.24" width="8.30" height="8.26" fill="#ff8989" />
<rect x="437.90" y="574.24" width="8.30" height="8.26" fill="#8c8cff" />
<rect x="446.20" y="574.24" width="8.30" height="8.26" fill="#2a00d5" />
<rect x="454.50" y="574.24" width="8.30" height="8.26" fill="#4500ad" />
<rect x="413.00" y="582.50" width="8.30" height="8.26" fill="#ff0000" />
<rect x="421.30" y="582.50" width="8.30" height="8.26" fill="#ffc0e5" />
<rect x="429.60" y="582.50" width="8.30" height="8.26" fill="#ff8989" />
<rect x="437.90" y="582.50" width="8.30" height="8.26" fill="#ffc0e5" />
<rect x="446.20" y="582.50" width="8.30" height="8.26" fill="#8c8cff" />
<rect x="454.50" y="582.50" width="8.30" height="8.26" fill="#4500ad" />
<rect x="413.00" y="590.76" width="8.30" height="8.26" fill="#c7c1ff" />
<rect x="421.30" y="590.76" width="8.30" height="8.26" fill="#ff0000" />
<rect x="429.60" y="590.76" width="8.30" height="8.26" fill="#ffc0e5" />
<rect x="437.90" y="590.76" width="8.30" height="8.26" fill="#2a00d5" />
<rect x="446.20" y="590.76" width="8.30" height="8.26" fill="#c7c1ff" />
<rect x="454.50" y="590.76" width="8.30" height="8.26" fill="#4500ad" />
<rect x="413.00" y="599.02" width="8.30" height="8.26" fill="#ff0000" />
<rect x="421.30" y="599.02" width="8.30" height="8.26" fill="#ffc0e5" />
<rect x="429.60" y="599.02" width="8.30" height="8.26" fill="#6b58ef" />
<rect x="437.90" y="599.02" width="8.30" height="8.26" fill="#4500ad" />
<rect x="446.20" y="599.02" width="8.30" height="8.26" fill="#4500ad" />
<rect x="454.50" y="599.02" width="8.30" height="8.26" fill="#4500ad" />
<rect x="413.00" y="607.28" width="8.30" height="8.26" fill="#8c8cff" />
<rect x="421.30" y="607.28" width="8.30" height="8.26" fill="#ff0000" />
<rect x="429.60" y="607.28" width="8.30" height="8.26" fill="#ff8989" />
<rect x="437.90" y="607.28" width="8.30" height="8.26" fill="#2a00d5" />
<rect x="446.20" y="607.28" width="8.30" height="8.26" fill="#8c8cff" />
<rect x="454.50" y="607.28" width="8.30" height="8.26" fill="#4500ad" />
<rect x="413.00" y="615.54" width="8.30" height="8.26" fill="#ff5a5a" />
<rect x="421.30" y="615.54" width="8.30" height="8.26" fill="#ff0000" />
<rect x="429.60" y="615.54" width="8.30" height="8.26" fill="#c7c1ff" />
<rect x="437.90" y="615.54" width="8.30" height="8.26" fill="#2a00d5" />
<rect x="446.20" y="615.54" width="8.30" height="8.26" fill="#4500ad" />
<rect x="454.50" y="615.54" width="8.30" height="8.26" fill="#4500ad" />
<rect x="413.00" y="623.80" width="8.30" height="8.26" fill="#ffc0e5" />
<rect x="421.30" y="623.80" width="8.30" height="8.26" fill="#ff0000" />
<rect x="429.60" y="623.80" width="8.30" height="8.26" fill="#c7c1ff" />
<rect x="437.90" y="623.80" width="8.30" height="8.26" fill="#8c8cff" />
<rect x="446.20" y="623.80" width="8.30" height="8.26" fill="#2a00d5" />
<rect x="454.50" y="623.80" width="8.30" height="8.26" fill="#4500ad" />
<rect x="413.00" y="632.06" width="8.30" height="8.26" fill="#ff8989" />
<rect x="421.30" y="632.06" width="8.30" height="8.26" fill="#ff0000" />
<rect x="429.60" y="632.06" width="8.30" height="8.26" fill="#6b58ef" />
<rect x="437.90" y="632.06" width="8.30" height="8.26" fill="#4500ad" />
<rect x="446.20" y="632.06" width="8.30" height="8.26" fill="#4500ad" />
<rect x="454.50" y="632.06" width="8.30" height="8.26" fill="#4500ad" />
<rect x="413.00" y="640.32" width="8.30" height="8.26" fill="#8c8cff" />
<rect x="421.30" y="640.32" width="8.30" height="8.26" fill="#ff0000" />
<rect x="429.60" y="640.32" width="8.30" height="8.26" fill="#ff8989" />
<rect x="437.90" y="640.32" width="8.30" height="8.26" fill="#4500ad" />
<rect x="446.20" y="640.32" width="8.30" height="8.26" fill="#ffc0e5" />
<rect x="454.50" y="640.32" width="8.30" height="8.26" fill="#4500ad" />
<rect x="413.00" y="648.58" width="8.30" height="8.26" fill="#ff8989" />
<rect x="421.30" y="648.58" width="8.30" height="8.26" fill="#ff0000" />
<rect x="429.60" y="648.58" width="8.30" height="8.26" fill="#6b58ef" />
<rect x="437.90" y="648.58" width="8.30" height="8.26" fill="#4500ad" />
<rect x="446.20" y="648.58" width="8.30" height="8.26" fill="#4500ad" />
<rect x="454.50" y="648.58" width="8.30" height="8.26" fill="#4500ad" />
<rect x="413.00" y="656.84" width="8.30" height="8.26" fill="#6b58ef" />
<rect x="421.30" y="656.84" width="8.30" height="8.26" fill="#ff0000" />
<rect x="429.60" y="656.84" width="8.30" height="8.26" fill="#ff5a5a" />
<rect x="437.90" y="656.84" width="8.30" height="8.26" fill="#8c8cff" />
<rect x="446.20" y="656.84" width="8.30" height="8.26" fill="#c7c1ff" />
<rect x="454.50" y="656.84" width="8.30" height="8.26" fill="#4500ad" />
<rect x="413.00" y="665.10" width="8.30" height="8.26" fill="#ff8989" />
<rect x="421.30" y="665.10" width="8.30" height="8.26" fill="#ff0000" />
<rect x="429.60" y="665.10" width="8.30" height="8.26" fill="#6b58ef" />
<rect x="437.90" y="665.10" width="8.30" height="8.26" fill="#4500ad" />
<rect x="446.20" y="665.10" width="8.30" height="8.26" fill="#4500ad" />
<rect x="454.50" y="665.10" width="8.30" height="8.26" fill="#4500ad" />
<rect x="413.00" y="673.36" width="8.30" height="8.26" fill="#ff0000" />
<rect x="421.30" y="673.36" width="8.30" height="8.26" fill="#c7c1ff" />
<rect x="429.60" y="673.36" width="8.30" height="8.26" fill="#6b58ef" />
<rect x="437.90" y="673.36" width="8.30" height="8.26" fill="#4500ad" />
<rect x="446.20" y="673.36" width="8.30" height="8.26" fill="#8c8cff" />
<rect x="454.50" y="673.36" width="8.30" height="8.26" fill="#4500ad" />
<rect x="413.00" y="681.62" width="8.30" height="8.26" fill="#6b58ef" />
<rect x="421.30" y="681.62" width="8.30" height="8.26" fill="#ff8989" />
<rect x="429.60" y="681.62" width="8.30" height="8.26" fill="#ff0000" />
<rect x="437.90" y="681.62" width="8.30" height="8.26" fill="#ffc0e5" />
<rect x="446.20" y="681.62" width="8.30" height="8.26" fill="#2a00d5" />
<rect x="454.50" y="681.62" width="8.30" height="8.26" fill="#4500ad" />
<rect x="413.00" y="689.88" width="8.30" height="8.26" fill="#4500ad" />
<rect x="421.30" y="689.88" width="8.30" height="8.26" fill="#ff0000" />
<rect x="429.60" y="689.88" width="8.30" height="8.26" fill="#4500ad" />
<rect x="437.90" y="689.88" width="8.30" height="8.26" fill="#4500ad" />
<rect x="446.20" y="689.88" width="8.30" height="8.26" fill="#4500ad" />
<rect x="454.50" y="689.88" width="8.30" height="8.26" fill="#4500ad" />
<rect x="413.00" y="698.14" width="8.30" height="8.26" fill="#ffc0e5" />
<rect x="421.30" y="698.14" width="8.30" height="8.26" fill="#ff8989" />
<rect x="429.60" y="698.14" width="8.30" height="8.26" fill="#ff0000" />
<rect x="437.90" y="698.14" width="8.30" height="8.26" fill="#c7c1ff" />
<rect x="446.20" y="698.14" width="8.30" height="8.26" fill="#4500ad" />
<rect x="454.50" y="698.14" width="8.30" height="8.26" fill="#8c8cff" />
<rect x="413.00" y="706.40" width="8.30" height="8.26" fill="#8c8cff" />
<rect x="421.30" y="706.40" width="8.30" height="8.26" fill="#ff0000" />
<rect x="429.60" y="706.40" width="8.30" height="8.26" fill="#2a00d5" />
<rect x="437.90" y="706.40" width="8.30" height="8.26" fill="#4500ad" />
<rect x="446.20" y="706.40" width="8.30" height="8.26" fill="#4500ad" />
<rect x="454.50" y="706.40" width="8.30" height="8.26" fill="#4500ad" />
<rect x="413.00" y="714.66" width="8.30" height="8.26" fill="#ff0000" />
<rect x="421.30" y="714.66" width="8.30" height="8.26" fill="#ff8989" />
<rect x="429.60" y="714.66" width="8.30" height="8.26" fill="#ff5a5a" />
<rect x="437.90" y="714.66" width="8.30" height="8.26" fill="#c7c1ff" />
<rect x="446.20" y="714.66" width="8.30" height="8.26" fill="#4500ad" />
<rect x="454.50" y="714.66" width="8.30" height="8.26" fill="#c7c1ff" />
<rect x="413.00" y="722.92" width="8.30" height="8.26" fill="#c7c1ff" />
<rect x="421.30" y="722.92" width="8.30" height="8.26" fill="#ff8989" />
<rect x="429.60" y="722.92" width="8.30" height="8.26" fill="#ff0000" />
<rect x="437.90" y="722.92" width="8.30" height="8.26" fill="#4500ad" />
<rect x="446.20" y="722.92" width="8.30" height="8.26" fill="#4500ad" />
<rect x="454.50" y="722.92" width="8.30" height="8.26" fill="#ffc0e5" />
<rect x="413.00" y="731.18" width="8.30" height="8.26" fill="#c7c1ff" />
<rect x="421.30" y="731.18" width="8.30" height="8.26" fill="#ff8989" />
<rect x="429.60" y="731.18" width="8.30" height="8.26" fill="#ff0000" />
<rect x="437.90" y="731.18" width="8.30" height="8.26" fill="#ff8989" />
<rect x="446.20" y="731.18" width="8.30" height="8.26" fill="#4500ad" />
<rect x="454.50" y="731.18" width="8.30" height="8.26" fill="#8c8cff" />
<rect x="413.00" y="739.44" width="8.30" height="8.26" fill="#2a00d5" />
<rect x="421.30" y="739.44" width="8.30" height="8.26" fill="#ff0000" />
<rect x="429.60" y="739.44" width="8.30" height="8.26" fill="#ff5a5a" />
<rect x="437.90" y="739.44" width="8.30" height="8.26" fill="#8c8cff" />
<rect x="446.20" y="739.44" width="8.30" height="8.26" fill="#ffc0e5" />
<rect x="454.50" y="739.44" width="8.30" height="8.26" fill="#4500ad" />
<rect x="413.00" y="747.70" width="8.30" height="8.26" fill="#ff0000" />
<rect x="421.30" y="747.70" width="8.30" height="8.26" fill="#ff8989" />
<rect x="429.60" y="747.70" width="8.30" height="8.26" fill="#c7c1ff" />
<rect x="437.90" y="747.70" width="8.30" height="8.26" fill="#ffc0e5" />
<rect x="446.20" y="747.70" width="8.30" height="8.26" fill="#2a00d5" />
<rect x="454.50" y="747.70" width="8.30" height="8.26" fill="#4500ad" />
<rect x="413.00" y="755.96" width="8.30" height="8.26" fill="#4500ad" />
<rect x="421.30" y="755.96" width="8.30" height="8.26" fill="#ff0000" />
<rect x="429.60" y="755.96" width="8.30" height="8.26" fill="#4500ad" />
<rect x="437.90" y="755.96" width="8.30" height="8.26" fill="#4500ad" />
<rect x="446.20" y="755.96" width="8.30" height="8.26" fill="#4500ad" />
<rect x="454.50" y="755.96" width="8.30" height="8.26" fill="#2a00d5" />
<rect x="413.00" y="764.22" width="8.30" height="8.26" fill="#ff0000" />
<rect x="421.30" y="764.22" width="8.30" height="8.26" fill="#6b58ef" />
<rect x="429.60" y="764.22" width="8.30" height="8.26" fill="#ff5a5a" />
<rect x="437.90" y="764.22" width="8.30" height="8.26" fill="#ff8989" />
<rect x="446.20" y="764.22" width="8.30" height="8.26" fill="#4500ad" />
<rect x="454.50" y="764.22" width="8.30" height="8.26" fill="#4500ad" />
<rect x="413.00" y="772.48" width="8.30" height="8.26" fill="#8c8cff" />
<rect x="421.30" y="772.48" width="8.30" height="8.26" fill="#ff0000" />
<rect x="429.60" y="772.48" width="8.30" height="8.26" fill="#ffc0e5" />
<rect x="437.90" y="772.48" width="8.30" height="8.26" fill="#ff8989" />
<rect x="446.20" y="772.48" width="8.30" height="8.26" fill="#4500ad" />
<rect x="454.50" y="772.48" width="8.30" height="8.26" fill="#4500ad" />
<rect x="413.00" y="780.74" width="8.30" height="8.26" fill="#ffc0e5" />
<rect x="421.30" y="780.74" width="8.30" height="8.26" fill="#ff0000" />
<rect x="429.60" y="780.74" width="8.30" height="8.26" fill="#4500ad" />
<rect x="437.90" y="780.74" width="8.30" height="8.26" fill="#4500ad" />
<rect x="446.20" y="780.74" width="8.30" height="8.26" fill="#4500ad" />
<rect x="454.50" y="780.74" width="8.30" height="8.26" fill="#4500ad" />
<rect x="413.00" y="789.00" width="8.30" height="8.26" fill="#4500ad" />
<rect x="421.30" y="789.00" width="8.30" height="8.26" fill="#ff0000" />
<rect x="429.60" y="789.00" width="8.30" height="8.26" fill="#4500ad" />
<rect x="437.90" y="789.00" width="8.30" height="8.26" fill="#4500ad" />
<rect x="446.20" y="789.00" width="8.30" height="8.26" fill="#8c8cff" />
<rect x="454.50" y="789.00" width="8.30" height="8.26" fill="#4500ad" />
<rect x="413.00" y="797.26" width="8.30" height="8.26" fill="#ffc0e5" />
<rect x="421.30" y="797.26" width="8.30" height="8.26" fill="#ff0000" />
<rect x="429.60" y="797.26" width="8.30" height="8.26" fill="#c7c1ff" />
<rect x="437.90" y="797.26" width="8.30" height="8.26" fill="#c7c1ff" />
<rect x="446.20" y="797.26" width="8.30" height="8.26" fill="#2a00d5" />
<rect x="454.50" y="797.26" width="8.30" height="8.26" fill="#4500ad" />
<rect x="413.00" y="805.52" width="8.30" height="8.26" fill="#ff8989" />
<rect x="421.30" y="805.52" width="8.30" height="8.26" fill="#ff0000" />
<rect x="429.60" y="805.52" width="8.30" height="8.26" fill="#ffc0e5" />
<rect x="437.90" y="805.52" width="8.30" height="8.26" fill="#ffc0e5" />
<rect x="446.20" y="805.52" width="8.30" height="8.26" fill="#8c8cff" />
<rect x="454.50" y="805.52" width="8.30" height="8.26" fill="#4500ad" />
<rect x="413.00" y="813.78" width="8.30" height="8.26" fill="#2a00d5" />
<rect x="421.30" y="813.78" width="8.30" height="8.26" fill="#ff0000" />
<rect x="429.60" y="813.78" width="8.30" height="8.26" fill="#ff0000" />
<rect x="437.90" y="813.78" width="8.30" height="8.26" fill="#ff8989" />
<rect x="446.20" y="813.78" width="8.30" height="8.26" fill="#4500ad" />
<rect x="454.50" y="813.78" width="8.30" height="8.26" fill="#c7c1ff" />
<rect x="413.00" y="822.04" width="8.30" height="8.26" fill="#ff0000" />
<rect x="421.30" y="822.04" width="8.30" height="8.26" fill="#c7c1ff" />
<rect x="429.60" y="822.04" width="8.30" height="8.26" fill="#c7c1ff" />
<rect x="437.90" y="822.04" width="8.30" height="8.26" fill="#c7c1ff" />
<rect x="446.20" y="822.04" width="8.30" height="8.26" fill="#4500ad" />
<rect x="454.50" y="822.04" width="8.30" height="8.26" fill="#ff8989" />
<rect x="413.00" y="830.30" width="8.30" height="8.26" fill="#4500ad" />
<rect x="421.30" y="830.30" width="8.30" height="8.26" fill="#ff0000" />
<rect x="429.60" y="830.30" width="8.30" height="8.26" fill="#ff5a5a" />
<rect x="437.90" y="830.30" width="8.30" height="8.26" fill="#c7c1ff" />
<rect x="446.20" y="830.30" width="8.30" height="8.26" fill="#dcdcff" />
<rect x="454.50" y="830.30" width="8.30" height="8.26" fill="#2a00d5" />
<rect x="413.00" y="838.56" width="8.30" height="8.26" fill="#c7c1ff" />
<rect x="421.30" y="838.56" width="8.30" height="8.26" fill="#ff0000" />
<rect x="429.60" y="838.56" width="8.30" height="8.26" fill="#4500ad" />
<rect x="437.90" y="838.56" width="8.30" height="8.26" fill="#4500ad" />
<rect x="446.20" y="838.56" width="8.30" height="8.26" fill="#4500ad" />
<rect x="454.50" y="838.56" width="8.30" height="8.26" fill="#4500ad" />
<rect x="413.00" y="846.82" width="8.30" height="8.26" fill="#8c8cff" />
<rect x="421.30" y="846.82" width="8.30" height="8.26" fill="#ff0000" />
<rect x="429.60" y="846.82" width="8.30" height="8.26" fill="#4500ad" />
<rect x="437.90" y="846.82" width="8.30" height="8.26" fill="#4500ad" />
<rect x="446.20" y="846.82" width="8.30" height="8.26" fill="#4500ad" />
<rect x="454.50" y="846.82" width="8.30" height="8.26" fill="#4500ad" />
<rect x="413.00" y="855.08" width="8.30" height="8.26" fill="#4500ad" />
<rect x="421.30" y="855.08" width="8.30" height="8.26" fill="#ff0000" />
<rect x="429.60" y="855.08" width="8.30" height="8.26" fill="#4500ad" />
<rect x="437.90" y="855.08" width="8.30" height="8.26" fill="#4500ad" />
<rect x="446.20" y="855.08" width="8.30" height="8.26" fill="#dcdcff" />
<rect x="454.50" y="855.08" width="8.30" height="8.26" fill="#4500ad" />
<rect x="413.00" y="863.34" width="8.30" height="8.26" fill="#ffc0e5" />
<rect x="421.30" y="863.34" width="8.30" height="8.26" fill="#ff0000" />
<rect x="429.60" y="863.34" width="8.30" height="8.26" fill="#4500ad" />
<rect x="437.90" y="863.34" width="8.30" height="8.26" fill="#4500ad" />
<rect x="446.20" y="863.34" width="8.30" height="8.26" fill="#4500ad" />
<rect x="454.50" y="863.34" width="8.30" height="8.26" fill="#4500ad" />
<rect x="413.00" y="871.60" width="8.30" height="8.26" fill="#ff0000" />
<rect x="421.30" y="871.60" width="8.30" height="8.26" fill="#ff8989" />
<rect x="429.60" y="871.60" width="8.30" height="8.26" fill="#ffc0e5" />
<rect x="437.90" y="871.60" width="8.30" height="8.26" fill="#ffc0e5" />
<rect x="446.20" y="871.60" width="8.30" height="8.26" fill="#c7c1ff" />
<rect x="454.50" y="871.60" width="8.30" height="8.26" fill="#4500ad" />
<rect x="413.00" y="879.86" width="8.30" height="8.26" fill="#ff5a5a" />
<rect x="421.30" y="879.86" width="8.30" height="8.26" fill="#ff8989" />
<rect x="429.60" y="879.86" width="8.30" height="8.26" fill="#ff0000" />
<rect x="437.90" y="879.86" width="8.30" height="8.26" fill="#ff8989" />
<rect x="446.20" y="879.86" width="8.30" height="8.26" fill="#4500ad" />
<rect x="454.50" y="879.86" width="8.30" height="8.26" fill="#2a00d5" />
<rect x="413.00" y="888.12" width="8.30" height="8.26" fill="#ff8989" />
<rect x="421.30" y="888.12" width="8.30" height="8.26" fill="#ff8989" />
<rect x="429.60" y="888.12" width="8.30" height="8.26" fill="#ff0000" />
<rect x="437.90" y="888.12" width="8.30" height="8.26" fill="#ff8989" />
<rect x="446.20" y="888.12" width="8.30" height="8.26" fill="#c7c1ff" />
<rect x="454.50" y="888.12" width="8.30" height="8.26" fill="#4500ad" />
<line x1="413.00" y1="541.20" x2="413.00" y2="896.38" stroke="#1a1a1a" stroke-width="1" />
<line x1="421.30" y1="541.20" x2="421.30" y2="896.38" stroke="#1a1a1a" stroke-width="1" />
<line x1="429.60" y1="541.20" x2="429.60" y2="896.38" stroke="#1a1a1a" stroke-width="1" />
<line x1="437.90" y1="541.20" x2="437.90" y2="896.38" stroke="#1a1a1a" stroke-width="1" />
<line x1="446.20" y1="541.20" x2="446.20" y2="896.38" stroke="#1a1a1a" stroke-width="1" />
<line x1="454.50" y1="541.20" x2="454.50" y2="896.38" stroke="#1a1a1a" stroke-width="1" />
<line x1="462.80" y1="541.20" x2="462.80" y2="896.38" stroke="#1a1a1a" stroke-width="1" />
<line x1="413.00" y1="541.20" x2="462.80" y2="541.20" stroke="#1a1a1a" stroke-width="1" />
<line x1="413.00" y1="549.46" x2="462.80" y2="549.46" stroke="#1a1a1a" stroke-width="1" />
<line x1="413.00" y1="557.72" x2="462.80" y2="557.72" stroke="#1a1a1a" stroke-width="1" />
<line x1="413.00" y1="565.98" x2="462.80" y2="565.98" stroke="#1a1a1a" stroke-width="1" />
<line x1="413.00" y1="574.24" x2="462.80" y2="574.24" stroke="#1a1a1a" stroke-width="1" />
<line x1="413.00" y1="582.50" x2="462.80" y2="582.50" stroke="#1a1a1a" stroke-width="1" />
<line x1="413.00" y1="590.76" x2="462.80" y2="590.76" stroke="#1a1a1a" stroke-width="1" />
<line x1="413.00" y1="599.02" x2="462.80" y2="599.02" stroke="#1a1a1a" stroke-width="1" />
<line x1="413.00" y1="607.28" x2="462.80" y2="607.28" stroke="#1a1a1a" stroke-width="1" />
<line x1="413.00" y1="615.54" x2="462.80" y2="615.54" stroke="#1a1a1a" stroke-width="1" />
<line x1="413.00" y1="623.80" x2="462.80" y2="623.80" stroke="#1a1a1a" stroke-width="1" />
<line x1="413.00" y1="632.06" x2="462.80" y2="632.06" stroke="#1a1a1a" stroke-width="1" />
<line x1="413.00" y1="640.32" x2="462.80" y2="640.32" stroke="#1a1a1a" stroke-width="1" />
<line x1="413.00" y1="648.58" x2="462.80" y2="648.58" stroke="#1a1a1a" stroke-width="1" />
<line x1="413.00" y1="656.84" x2="462.80" y2="656.84" stroke="#1a1a1a" stroke-width="1" />
<line x1="413.00" y1="665.10" x2="462.80" y2="665.10" stroke="#1a1a1a" stroke-width="1" />
<line x1="413.00" y1="673.36" x2="462.80" y2="673.36" stroke="#1a1a1a" stroke-width="1" />
<line x1="413.00" y1="681.62" x2="462.80" y2="681.62" stroke="#1a1a1a" stroke-width="1" />
<line x1="413.00" y1="689.88" x2="462.80" y2="689.88" stroke="#1a1a1a" stroke-width="1" />
<line x1="413.00" y1="698.14" x2="462.80" y2="698.14" stroke="#1a1a1a" stroke-width="1" />
<line x1="413.00" y1="706.40" x2="462.80" y2="706.40" stroke="#1a1a1a" stroke-width="1" />
<line x1="413.00" y1="714.66" x2="462.80" y2="714.66" stroke="#1a1a1a" stroke-width="1" />
<line x1="413.00" y1="722.92" x2="462.80" y2="722.92" stroke="#1a1a1a" stroke-width="1" />
<line x1="413.00" y1="731.18" x2="462.80" y2="731.18" stroke="#1a1a1a" stroke-width="1" />
<line x1="413.00" y1="739.44" x2="462.80" y2="739.44" stroke="#1a1a1a" stroke-width="1" />
<line x1="413.00" y1="747.70" x2="462.80" y2="747.70" stroke="#1a1a1a" stroke-width="1" />
<line x1="413.00" y1="755.96" x2="462.80" y2="755.96" stroke="#1a1a1a" stroke-width="1" />
<line x1="413.00" y1="764.22" x2="462.80" y2="764.22" stroke="#1a1a1a" stroke-width="1" />
<line x1="413.00" y1="772.48" x2="462.80" y2="772.48" stroke="#1a1a1a" stroke-width="1" />
<line x1="413.00" y1="780.74" x2="462.80" y2="780.74" stroke="#1a1a1a" stroke-width="1" />
<line x1="413.00" y1="789.00" x2="462.80" y2="789.00" stroke="#1a1a1a" stroke-width="1" />
<line x1="413.00" y1="797.26" x2="462.80" y2="797.26" stroke="#1a1a1a" stroke-width="1" />
<line x1="413.00" y1="805.52" x2="462.80" y2="805.52" stroke="#1a1a1a" stroke-width="1" />
<line x1="413.00" y1="813.78" x2="462.80" y2="813.78" stroke="#1a1a1a" stroke-width="1" />
<line x1="413.00" y1="822.04" x2="462.80" y2="822.04" stroke="#1a1a1a" stroke-width="1" />
<line x1="413.00" y1="830.30" x2="462.80" y2="830.30" stroke="#1a1a1a" stroke-width="1" />
<line x1="413.00" y1="838.56" x2="462.80" y2="838.56" stroke="#1a1a1a" stroke-width="1" />
<line x1="413.00" y1="846.82" x2="462.80" y2="846.82" stroke="#1a1a1a" stroke-width="1" />
<line x1="413.00" y1="855.08" x2="462.80" y2="855.08" stroke="#1a1a1a" stroke-width="1" />
<line x1="413.00" y1="863.34" x2="462.80" y2="863.34" stroke="#1a1a1a" stroke-width="1" />
<line x1="413.00" y1="871.60" x2="462.80" y2="871.60" stroke="#1a1a1a" stroke-width="1" />
<line x1="413.00" y1="879.86" x2="462.80" y2="879.86" stroke="#1a1a1a" stroke-width="1" />
<line x1="413.00" y1="888.12" x2="462.80" y2="888.12" stroke="#1a1a1a" stroke-width="1" />
<line x1="413.00" y1="896.38" x2="462.80" y2="896.38" stroke="#1a1a1a" stroke-width="1" />
<line x1="462.80" y1="522.90" x2="462.80" y2="896.38" stroke="#555" stroke-width="1" />
<text x="469.8" y="532.7" font-size="10.1" font-weight="normal" fill="#333" text-anchor="start" font-family='"Liberation Mono", monospace' textLength="60.9" lengthAdjust="spacingAndGlyphs" >SampleName</text>
<line x1="462.80" y1="541.20" x2="535.00" y2="541.20" stroke="#555" stroke-width="1.3" />
<line x1="462.80" y1="549.46" x2="531.20" y2="549.46" stroke="#333" stroke-width="1" />
<text x="469.5" y="549.0600000000001" font-size="7.75" font-weight="normal" fill="#333" text-anchor="start" font-family='"Liberation Mono", monospace' textLength="23.25" lengthAdjust="spacingAndGlyphs" >Prpn6</text>
<line x1="462.80" y1="557.72" x2="531.20" y2="557.72" stroke="#333" stroke-width="1" />
<text x="469.5" y="557.32" font-size="7.75" font-weight="normal" fill="#333" text-anchor="start" font-family='"Liberation Mono", monospace' textLength="18.6" lengthAdjust="spacingAndGlyphs" >Dhx9</text>
<line x1="462.80" y1="565.98" x2="531.20" y2="565.98" stroke="#333" stroke-width="1" />
<text x="469.5" y="565.58" font-size="7.75" font-weight="normal" fill="#333" text-anchor="start" font-family='"Liberation Mono", monospace' textLength="23.25" lengthAdjust="spacingAndGlyphs" >Stat1</text>
<line x1="462.80" y1="574.24" x2="531.20" y2="574.24" stroke="#333" stroke-width="1" />
<text x="469.5" y="573.84" font-size="7.75" font-weight="normal" fill="#333" text-anchor="start" font-family='"Liberation Mono", monospace' textLength="18.6" lengthAdjust="spacingAndGlyphs" >Irf9</text>
<line x1="462.80" y1="582.50" x2="531.20" y2="582.50" stroke="#333" stroke-width="1" />
<text x="469.5" y="582.1" font-size="7.75" font-weight="normal" fill="#333" text-anchor="start" font-family='"Liberation Mono", monospace' textLength="23.25" lengthAdjust="spacingAndGlyphs" >Isg15</text>
<line x1="462.80" y1="590.76" x2="531.20" y2="590.76" stroke="#333" stroke-width="1" />
<text x="469.5" y="590.36" font-size="7.75" font-weight="normal" fill="#333" text-anchor="start" font-family='"Liberation Mono", monospace' textLength="23.25" lengthAdjust="spacingAndGlyphs" >Fancb</text>
<line x1="462.80" y1="599.02" x2="531.20" y2="599.02" stroke="#333" stroke-width="1" />
<text x="469.5" y="598.6200000000001" font-size="7.75" font-weight="normal" fill="#333" text-anchor="start" font-family='"Liberation Mono", monospace' textLength="13.950000000000001" lengthAdjust="spacingAndGlyphs" >Mx2</text>
<line x1="462.80" y1="607.28" x2="531.20" y2="607.28" stroke="#333" stroke-width="1" />
<text x="469.5" y="606.8800000000001" font-size="7.75" font-weight="normal" fill="#333" text-anchor="start" font-family='"Liberation Mono", monospace' textLength="23.25" lengthAdjust="spacingAndGlyphs" >Ifna1</text>
<line x1="462.80" y1="615.54" x2="531.20" y2="615.54" stroke="#333" stroke-width="1" />
<text x="469.5" y="615.1400000000001" font-size="7.75" font-weight="normal" fill="#333" text-anchor="start" font-family='"Liberation Mono", monospace' textLength="18.6" lengthAdjust="spacingAndGlyphs" >Uba7</text>
<line x1="462.80" y1="623.80" x2="531.20" y2="623.80" stroke="#333" stroke-width="1" />
<text x="469.5" y="623.4000000000001" font-size="7.75" font-weight="normal" fill="#333" text-anchor="start" font-family='"Liberation Mono", monospace' textLength="23.25" lengthAdjust="spacingAndGlyphs" >Tubb3</text>
<line x1="462.80" y1="632.06" x2="531.20" y2="632.06" stroke="#333" stroke-width="1" />
<text x="469.5" y="631.6600000000001" font-size="7.75" font-weight="normal" fill="#333" text-anchor="start" font-family='"Liberation Mono", monospace' textLength="23.25" lengthAdjust="spacingAndGlyphs" >Tubb6</text>
<line x1="462.80" y1="640.32" x2="531.20" y2="640.32" stroke="#333" stroke-width="1" />
<text x="469.5" y="639.9200000000001" font-size="7.75" font-weight="normal" fill="#333" text-anchor="start" font-family='"Liberation Mono", monospace' textLength="27.900000000000002" lengthAdjust="spacingAndGlyphs" >Ifna13</text>
<line x1="462.80" y1="648.58" x2="531.20" y2="648.58" stroke="#333" stroke-width="1" />
<text x="469.5" y="648.1800000000001" font-size="7.75" font-weight="normal" fill="#333" text-anchor="start" font-family='"Liberation Mono", monospace' textLength="23.25" lengthAdjust="spacingAndGlyphs" >Usp18</text>
<line x1="462.80" y1="656.84" x2="531.20" y2="656.84" stroke="#333" stroke-width="1" />
<text x="469.5" y="656.44" font-size="7.75" font-weight="normal" fill="#333" text-anchor="start" font-family='"Liberation Mono", monospace' textLength="23.25" lengthAdjust="spacingAndGlyphs" >Ifnab</text>
<line x1="462.80" y1="665.10" x2="531.20" y2="665.10" stroke="#333" stroke-width="1" />
<text x="469.5" y="664.7" font-size="7.75" font-weight="normal" fill="#333" text-anchor="start" font-family='"Liberation Mono", monospace' textLength="27.900000000000002" lengthAdjust="spacingAndGlyphs" >Trim25</text>
<line x1="462.80" y1="673.36" x2="531.20" y2="673.36" stroke="#333" stroke-width="1" />
<text x="469.5" y="672.96" font-size="7.75" font-weight="normal" fill="#333" text-anchor="start" font-family='"Liberation Mono", monospace' textLength="23.25" lengthAdjust="spacingAndGlyphs" >Ifna4</text>
<line x1="462.80" y1="681.62" x2="531.20" y2="681.62" stroke="#333" stroke-width="1" />
<text x="469.5" y="681.22" font-size="7.75" font-weight="normal" fill="#333" text-anchor="start" font-family='"Liberation Mono", monospace' textLength="27.900000000000002" lengthAdjust="spacingAndGlyphs" >Eif4e2</text>
<line x1="462.80" y1="689.88" x2="531.20" y2="689.88" stroke="#333" stroke-width="1" />
<text x="469.5" y="689.4800000000001" font-size="7.75" font-weight="normal" fill="#333" text-anchor="start" font-family='"Liberation Mono", monospace' textLength="23.25" lengthAdjust="spacingAndGlyphs" >Socs1</text>
<line x1="462.80" y1="698.14" x2="531.20" y2="698.14" stroke="#333" stroke-width="1" />
<text x="469.5" y="697.7400000000001" font-size="7.75" font-weight="normal" fill="#333" text-anchor="start" font-family='"Liberation Mono", monospace' textLength="18.6" lengthAdjust="spacingAndGlyphs" >Ifng</text>
<line x1="462.80" y1="706.40" x2="531.20" y2="706.40" stroke="#333" stroke-width="1" />
<text x="469.5" y="706.0000000000001" font-size="7.75" font-weight="normal" fill="#333" text-anchor="start" font-family='"Liberation Mono", monospace' textLength="27.900000000000002" lengthAdjust="spacingAndGlyphs" >Camk2a</text>
<line x1="462.80" y1="714.66" x2="531.20" y2="714.66" stroke="#333" stroke-width="1" />
<text x="469.5" y="714.2600000000001" font-size="7.75" font-weight="normal" fill="#333" text-anchor="start" font-family='"Liberation Mono", monospace' textLength="23.25" lengthAdjust="spacingAndGlyphs" >Ifna2</text>
<line x1="462.80" y1="722.92" x2="531.20" y2="722.92" stroke="#333" stroke-width="1" />
<text x="469.5" y="722.5200000000001" font-size="7.75" font-weight="normal" fill="#333" text-anchor="start" font-family='"Liberation Mono", monospace' textLength="18.6" lengthAdjust="spacingAndGlyphs" >Adar</text>
<line x1="462.80" y1="731.18" x2="531.20" y2="731.18" stroke="#333" stroke-width="1" />
<text x="469.5" y="730.7800000000001" font-size="7.75" font-weight="normal" fill="#333" text-anchor="start" font-family='"Liberation Mono", monospace' textLength="27.900000000000002" lengthAdjust="spacingAndGlyphs" >Eif4g3</text>
<line x1="462.80" y1="739.44" x2="531.20" y2="739.44" stroke="#333" stroke-width="1" />
<text x="469.5" y="739.0400000000001" font-size="7.75" font-weight="normal" fill="#333" text-anchor="start" font-family='"Liberation Mono", monospace' textLength="23.25" lengthAdjust="spacingAndGlyphs" >Socs3</text>
<line x1="462.80" y1="747.70" x2="531.20" y2="747.70" stroke="#333" stroke-width="1" />
<text x="469.5" y="747.3000000000001" font-size="7.75" font-weight="normal" fill="#333" text-anchor="start" font-family='"Liberation Mono", monospace' textLength="23.25" lengthAdjust="spacingAndGlyphs" >Oasl1</text>
<line x1="462.80" y1="755.96" x2="531.20" y2="755.96" stroke="#333" stroke-width="1" />
<text x="469.5" y="755.5600000000001" font-size="7.75" font-weight="normal" fill="#333" text-anchor="start" font-family='"Liberation Mono", monospace' textLength="18.6" lengthAdjust="spacingAndGlyphs" >Snca</text>
<line x1="462.80" y1="764.22" x2="531.20" y2="764.22" stroke="#333" stroke-width="1" />
<text x="469.5" y="763.82" font-size="7.75" font-weight="normal" fill="#333" text-anchor="start" font-family='"Liberation Mono", monospace' textLength="27.900000000000002" lengthAdjust="spacingAndGlyphs" >Ifna14</text>
<line x1="462.80" y1="772.48" x2="531.20" y2="772.48" stroke="#333" stroke-width="1" />
<text x="469.5" y="772.08" font-size="7.75" font-weight="normal" fill="#333" text-anchor="start" font-family='"Liberation Mono", monospace' textLength="18.6" lengthAdjust="spacingAndGlyphs" >Raf1</text>
<line x1="462.80" y1="780.74" x2="531.20" y2="780.74" stroke="#333" stroke-width="1" />
<text x="469.5" y="780.34" font-size="7.75" font-weight="normal" fill="#333" text-anchor="start" font-family='"Liberation Mono", monospace' textLength="18.6" lengthAdjust="spacingAndGlyphs" >Jak2</text>
<line x1="462.80" y1="789.00" x2="531.20" y2="789.00" stroke="#333" stroke-width="1" />
<text x="469.5" y="788.6" font-size="7.75" font-weight="normal" fill="#333" text-anchor="start" font-family='"Liberation Mono", monospace' textLength="27.900000000000002" lengthAdjust="spacingAndGlyphs" >Tubal3</text>
<line x1="462.80" y1="797.26" x2="531.20" y2="797.26" stroke="#333" stroke-width="1" />
<text x="469.5" y="796.86" font-size="7.75" font-weight="normal" fill="#333" text-anchor="start" font-family='"Liberation Mono", monospace' textLength="27.900000000000002" lengthAdjust="spacingAndGlyphs" >Tuba3a</text>
<line x1="462.80" y1="805.52" x2="531.20" y2="805.52" stroke="#333" stroke-width="1" />
<text x="469.5" y="805.12" font-size="7.75" font-weight="normal" fill="#333" text-anchor="start" font-family='"Liberation Mono", monospace' textLength="18.6" lengthAdjust="spacingAndGlyphs" >Ybx1</text>
<line x1="462.80" y1="813.78" x2="531.20" y2="813.78" stroke="#333" stroke-width="1" />
<text x="469.5" y="813.38" font-size="7.75" font-weight="normal" fill="#333" text-anchor="start" font-family='"Liberation Mono", monospace' textLength="23.25" lengthAdjust="spacingAndGlyphs" >Ptpn1</text>
<line x1="462.80" y1="822.04" x2="531.20" y2="822.04" stroke="#333" stroke-width="1" />
<text x="469.5" y="821.64" font-size="7.75" font-weight="normal" fill="#333" text-anchor="start" font-family='"Liberation Mono", monospace' textLength="23.25" lengthAdjust="spacingAndGlyphs" >Sphk1</text>
<line x1="462.80" y1="830.30" x2="531.20" y2="830.30" stroke="#333" stroke-width="1" />
<text x="469.5" y="829.9" font-size="7.75" font-weight="normal" fill="#333" text-anchor="start" font-family='"Liberation Mono", monospace' textLength="27.900000000000002" lengthAdjust="spacingAndGlyphs" >Rnasel</text>
<line x1="462.80" y1="838.56" x2="531.20" y2="838.56" stroke="#333" stroke-width="1" />
<text x="469.5" y="838.1600000000001" font-size="7.75" font-weight="normal" fill="#333" text-anchor="start" font-family='"Liberation Mono", monospace' textLength="32.550000000000004" lengthAdjust="spacingAndGlyphs" >Eif2ak2</text>
<line x1="462.80" y1="846.82" x2="531.20" y2="846.82" stroke="#333" stroke-width="1" />
<text x="469.5" y="846.4200000000001" font-size="7.75" font-weight="normal" fill="#333" text-anchor="start" font-family='"Liberation Mono", monospace' textLength="18.6" lengthAdjust="spacingAndGlyphs" >Cdk1</text>
<line x1="462.80" y1="855.08" x2="531.20" y2="855.08" stroke="#333" stroke-width="1" />
<text x="469.5" y="854.6800000000001" font-size="7.75" font-weight="normal" fill="#333" text-anchor="start" font-family='"Liberation Mono", monospace' textLength="23.25" lengthAdjust="spacingAndGlyphs" >Ifna7</text>
<line x1="462.80" y1="863.34" x2="531.20" y2="863.34" stroke="#333" stroke-width="1" />
<text x="469.5" y="862.94" font-size="7.75" font-weight="normal" fill="#333" text-anchor="start" font-family='"Liberation Mono", monospace' textLength="27.900000000000002" lengthAdjust="spacingAndGlyphs" >Tuba3b</text>
<line x1="462.80" y1="871.60" x2="531.20" y2="871.60" stroke="#333" stroke-width="1" />
<text x="469.5" y="871.2" font-size="7.75" font-weight="normal" fill="#333" text-anchor="start" font-family='"Liberation Mono", monospace' textLength="23.25" lengthAdjust="spacingAndGlyphs" >Ifna5</text>
<line x1="462.80" y1="879.86" x2="531.20" y2="879.86" stroke="#333" stroke-width="1" />
<text x="469.5" y="879.46" font-size="7.75" font-weight="normal" fill="#333" text-anchor="start" font-family='"Liberation Mono", monospace' textLength="27.900000000000002" lengthAdjust="spacingAndGlyphs" >Tubb2a</text>
<line x1="462.80" y1="888.12" x2="531.20" y2="888.12" stroke="#333" stroke-width="1" />
<text x="469.5" y="887.7200000000001" font-size="7.75" font-weight="normal" fill="#333" text-anchor="start" font-family='"Liberation Mono", monospace' textLength="23.25" lengthAdjust="spacingAndGlyphs" >Mapk1</text>
<line x1="462.80" y1="896.38" x2="531.20" y2="896.38" stroke="#333" stroke-width="1" />
<text x="469.5" y="895.9800000000001" font-size="7.75" font-weight="normal" fill="#333" text-anchor="start" font-family='"Liberation Mono", monospace' textLength="27.900000000000002" lengthAdjust="spacingAndGlyphs" >Ube2l6</text>
<rect x="465.90" y="28.60" width="1.60" height="3.60" fill="#9a9aa8" />
<rect x="465.90" y="71.90" width="1.60" height="3.60" fill="#9a9aa8" />
<rect x="464.20" y="452.00" width="1.60" height="3.60" fill="#9a9aa8" />
<rect x="464.20" y="490.80" width="1.60" height="3.60" fill="#9a9aa8" />
</svg>
</body></html>
